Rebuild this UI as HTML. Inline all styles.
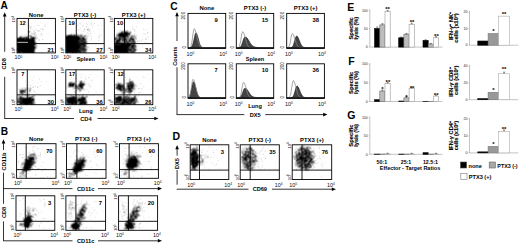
<!DOCTYPE html>
<html><head><meta charset="utf-8"><style>
html,body{margin:0;padding:0;background:#fff;width:520px;height:244px;overflow:hidden}
svg{display:block;font-family:"Liberation Sans",sans-serif}
</style></head><body>
<svg width="520" height="244" viewBox="0 0 520 244" font-family="Liberation Sans, sans-serif">
<defs><clipPath id="a00"><rect x="17.0" y="18.4" width="38.4" height="34.5"/></clipPath><clipPath id="a01"><rect x="65.8" y="18.4" width="38.400000000000006" height="34.5"/></clipPath><clipPath id="a02"><rect x="114.4" y="18.4" width="38.400000000000006" height="34.5"/></clipPath><clipPath id="a10"><rect x="17.0" y="69.8" width="38.4" height="34.900000000000006"/></clipPath><clipPath id="a11"><rect x="65.8" y="69.8" width="38.400000000000006" height="34.900000000000006"/></clipPath><clipPath id="a12"><rect x="114.4" y="69.8" width="38.400000000000006" height="34.900000000000006"/></clipPath><clipPath id="b00"><rect x="16.6" y="143.7" width="39.4" height="34.60000000000002"/></clipPath><clipPath id="b01"><rect x="66.5" y="143.7" width="39.5" height="34.60000000000002"/></clipPath><clipPath id="b02"><rect x="119.5" y="143.7" width="38.900000000000006" height="34.60000000000002"/></clipPath><clipPath id="b10"><rect x="16.0" y="195.8" width="38.8" height="34.5"/></clipPath><clipPath id="b11"><rect x="65.9" y="195.8" width="39.69999999999999" height="34.5"/></clipPath><clipPath id="b12"><rect x="118.6" y="195.8" width="39.0" height="34.5"/></clipPath><clipPath id="d0"><rect x="190.2" y="144.8" width="38.60000000000002" height="34.69999999999999"/></clipPath><clipPath id="d1"><rect x="240.2" y="144.8" width="39.10000000000002" height="34.69999999999999"/></clipPath><clipPath id="d2"><rect x="292.2" y="144.8" width="39.5" height="34.69999999999999"/></clipPath><filter id="spk" x="0" y="0" width="520" height="244" filterUnits="userSpaceOnUse" color-interpolation-filters="sRGB"><feGaussianBlur in="SourceAlpha" stdDeviation="1.0" result="b"/><feTurbulence type="fractalNoise" baseFrequency="0.85" numOctaves="2" seed="4" result="n"/><feComponentTransfer in="n" result="u"><feFuncR type="table" tableValues="0 0 0 .001 .005 .016 .044 .1 .196 .335 .5 .665 .804 .9 .956 .984 .995 .999 1 1 1"/></feComponentTransfer><feColorMatrix in="u" type="matrix" values="0 0 0 0 0  0 0 0 0 0  0 0 0 0 0  1 0 0 0 0" result="na"/><feComposite in="b" in2="na" operator="arithmetic" k1="0" k2="4" k3="-3" k4="0.1" result="c"/><feColorMatrix in="c" type="matrix" values="0 0 0 0 0  0 0 0 0 0  0 0 0 0 0  0 0 0 1 0"/><feConvolveMatrix order="3" kernelMatrix="1 2 1 2 4 2 1 2 1" divisor="16"/></filter></defs>
<rect width="520" height="244" fill="#fff"/>
<text x="0.5" y="9.3" font-size="10.2" font-weight="bold" text-anchor="start" fill="#000">A</text>
<path d="M4.7 12.2L2.9000000000000004 16.4L6.5 16.4Z" fill="#000"/>
<path d="M4.7 15L4.7 51.8" stroke="#000" stroke-width="0.8"/>
<text x="0" y="0" font-size="5.6" font-weight="bold" text-anchor="middle" fill="#000" transform="translate(6.1,63.8) rotate(-90)">CD8</text>
<path d="M4.7 76.8L4.7 118.5" stroke="#000" stroke-width="0.8"/>
<path d="M4.3 118.5L74.0 118.5" stroke="#000" stroke-width="0.8"/>
<path d="M97.5 118.5L155 118.5" stroke="#000" stroke-width="0.8"/>
<path d="M158.5 118.5L154.3 116.7L154.3 120.3Z" fill="#000"/>
<text x="85.9" y="120.5" font-size="5.7" font-weight="bold" text-anchor="middle" fill="#000">CD4</text>
<g clip-path="url(#a00)"><g filter="url(#spk)">
<rect x="16" y="37.6" width="19.2" height="16" fill="#000" fill-opacity="1.0"/>
<ellipse cx="31" cy="33" rx="5" ry="4" fill="#000" fill-opacity="0.15"/>
</g>
<rect x="17" y="41.8" width="11" height="1.3" fill="#fff" fill-opacity="0.6"/>
<path d="M33.5 26.4h.8v.8h-.8zM39.1 25.2h.8v.8h-.8zM37.1 29.9h.8v.8h-.8zM29.0 32.1h.8v.8h-.8zM28.6 30.9h.8v.8h-.8zM29.2 25.5h.8v.8h-.8zM35.2 37.2h.8v.8h-.8zM30.1 27.6h.8v.8h-.8zM38.7 39.2h.8v.8h-.8zM37.8 30.3h.8v.8h-.8zM44.6 24.7h.8v.8h-.8zM42.6 28.6h.8v.8h-.8zM30.5 25.9h.8v.8h-.8zM33.2 37.1h.8v.8h-.8zM31.1 33.3h.8v.8h-.8zM38.9 30.0h.8v.8h-.8zM37.3 25.0h.8v.8h-.8zM29.0 27.3h.8v.8h-.8zM39.6 30.8h.8v.8h-.8zM33.3 33.4h.8v.8h-.8zM35.7 28.8h.8v.8h-.8zM41.5 35.2h.8v.8h-.8zM32.1 33.2h.8v.8h-.8zM36.9 38.0h.8v.8h-.8zM40.4 28.6h.8v.8h-.8zM44.7 25.9h.8v.8h-.8zM35.1 36.1h.8v.8h-.8zM30.6 31.8h.8v.8h-.8zM28.7 34.7h.8v.8h-.8zM41.0 33.2h.8v.8h-.8zM42.9 29.0h.8v.8h-.8zM39.8 33.5h.8v.8h-.8zM37.9 31.3h.8v.8h-.8zM42.3 39.1h.8v.8h-.8zM36.1 34.6h.8v.8h-.8zM29.0 35.2h.8v.8h-.8zM39.0 39.9h.8v.8h-.8zM42.0 28.6h.8v.8h-.8zM34.6 34.7h.8v.8h-.8zM28.4 31.4h.8v.8h-.8zM30.9 25.9h.8v.8h-.8zM29.0 36.3h.8v.8h-.8zM30.2 28.0h.8v.8h-.8zM34.6 37.9h.8v.8h-.8zM29.4 31.2h.8v.8h-.8z" fill="#000" fill-opacity="0.22"/>
</g>
<rect x="17.0" y="18.4" width="38.4" height="34.5" fill="none" stroke="#000" stroke-width="0.9"/>
<path d="M28.4 18.4L28.4 52.9" stroke="#000" stroke-width="0.9"/>
<path d="M17.0 43.6L55.4 43.6" stroke="#000" stroke-width="0.9"/>
<text x="14.4" y="59.3" font-size="5.4" fill="#111">10<tspan font-size="3.2" dy="-1.8">0</tspan></text>
<text x="50.8" y="59.3" font-size="5.4" fill="#111">10<tspan font-size="3.2" dy="-1.8">4</tspan></text>
<text x="0" y="0" font-size="4.4" fill="#111" transform="translate(15.4,22.4) rotate(-90)">10<tspan font-size="3" dy="-1.5">4</tspan></text>
<text x="0" y="0" font-size="4.4" fill="#111" transform="translate(15.4,53.699999999999996) rotate(-90)">10<tspan font-size="3" dy="-1.5">0</tspan></text>
<text x="19.4" y="24.9" font-size="5.8" font-weight="bold" text-anchor="start" fill="#000">12</text>
<text x="54.0" y="52.1" font-size="5.8" font-weight="bold" text-anchor="end" fill="#000">21</text>
<text x="36.2" y="16.5" font-size="5.9" font-weight="bold" text-anchor="middle" fill="#000">None</text>
<g clip-path="url(#a01)"><g filter="url(#spk)">
<rect x="65" y="35" width="13" height="18.5" fill="#000" fill-opacity="1.0"/>
<rect x="77" y="36" width="9.5" height="17.5" fill="#000" fill-opacity="0.75"/>
<ellipse cx="88" cy="31" rx="9" ry="3" transform="rotate(-30 88 31)" fill="#000" fill-opacity="0.1"/>
</g>
<path d="M91.2 37.9h.8v.8h-.8zM97.7 37.6h.8v.8h-.8zM84.7 29.5h.8v.8h-.8zM86.6 37.9h.8v.8h-.8zM101.0 24.7h.8v.8h-.8zM82.2 26.2h.8v.8h-.8zM83.6 30.7h.8v.8h-.8zM92.1 26.7h.8v.8h-.8zM78.1 29.5h.8v.8h-.8zM86.9 32.2h.8v.8h-.8zM100.9 34.4h.8v.8h-.8zM90.4 33.1h.8v.8h-.8zM94.2 23.0h.8v.8h-.8zM99.6 36.0h.8v.8h-.8zM99.0 36.4h.8v.8h-.8zM87.4 29.2h.8v.8h-.8zM80.5 33.4h.8v.8h-.8zM79.5 23.2h.8v.8h-.8zM83.0 24.9h.8v.8h-.8zM86.2 22.9h.8v.8h-.8zM78.0 24.7h.8v.8h-.8zM80.4 28.5h.8v.8h-.8zM78.6 37.7h.8v.8h-.8zM92.7 24.7h.8v.8h-.8zM84.1 28.3h.8v.8h-.8zM86.7 24.2h.8v.8h-.8zM98.4 39.9h.8v.8h-.8zM89.2 30.7h.8v.8h-.8zM80.1 23.8h.8v.8h-.8zM86.2 26.8h.8v.8h-.8zM97.9 24.9h.8v.8h-.8zM78.6 39.1h.8v.8h-.8zM90.7 24.6h.8v.8h-.8zM91.0 22.5h.8v.8h-.8zM90.7 39.6h.8v.8h-.8zM98.7 34.5h.8v.8h-.8zM84.3 28.6h.8v.8h-.8zM82.0 35.9h.8v.8h-.8zM90.8 36.0h.8v.8h-.8zM85.9 26.0h.8v.8h-.8z" fill="#000" fill-opacity="0.22"/>
</g>
<rect x="65.8" y="18.4" width="38.400000000000006" height="34.5" fill="none" stroke="#000" stroke-width="0.9"/>
<path d="M76.3 18.4L76.3 52.9" stroke="#000" stroke-width="0.9"/>
<path d="M65.8 43.6L104.2 43.6" stroke="#000" stroke-width="0.9"/>
<text x="63.199999999999996" y="59.3" font-size="5.4" fill="#111">10<tspan font-size="3.2" dy="-1.8">0</tspan></text>
<text x="99.60000000000001" y="59.3" font-size="5.4" fill="#111">10<tspan font-size="3.2" dy="-1.8">4</tspan></text>
<text x="0" y="0" font-size="4.4" fill="#111" transform="translate(64.2,22.4) rotate(-90)">10<tspan font-size="3" dy="-1.5">4</tspan></text>
<text x="0" y="0" font-size="4.4" fill="#111" transform="translate(64.2,53.699999999999996) rotate(-90)">10<tspan font-size="3" dy="-1.5">0</tspan></text>
<text x="68.2" y="24.9" font-size="5.8" font-weight="bold" text-anchor="start" fill="#000">19</text>
<text x="102.8" y="52.1" font-size="5.8" font-weight="bold" text-anchor="end" fill="#000">27</text>
<text x="85.0" y="16.5" font-size="5.9" font-weight="bold" text-anchor="middle" fill="#000">PTX3 (-)</text>
<g clip-path="url(#a02)"><g filter="url(#spk)">
<ellipse cx="124" cy="34.5" rx="7" ry="2.8" transform="rotate(-8 124 34.5)" fill="#000" fill-opacity="1.0"/>
<rect x="114" y="38" width="22" height="15.5" fill="#000" fill-opacity="0.65"/>
<rect x="113.5" y="44" width="15" height="9.5" fill="#000" fill-opacity="0.95"/>
<ellipse cx="132" cy="37" rx="3" ry="2" fill="#000" fill-opacity="0.4"/>
</g>
<path d="M144.6 41.8h.8v.8h-.8zM145.3 38.9h.8v.8h-.8zM144.7 37.8h.8v.8h-.8zM134.1 34.3h.8v.8h-.8zM136.4 26.5h.8v.8h-.8zM130.5 30.5h.8v.8h-.8zM134.7 37.1h.8v.8h-.8zM147.2 33.2h.8v.8h-.8zM146.9 41.8h.8v.8h-.8zM147.2 31.8h.8v.8h-.8zM134.0 29.6h.8v.8h-.8zM133.5 29.3h.8v.8h-.8zM141.2 40.4h.8v.8h-.8zM145.1 33.7h.8v.8h-.8zM141.8 38.8h.8v.8h-.8zM131.5 36.6h.8v.8h-.8zM146.4 38.5h.8v.8h-.8zM143.5 33.6h.8v.8h-.8zM133.2 38.6h.8v.8h-.8zM136.0 38.8h.8v.8h-.8zM147.5 32.3h.8v.8h-.8zM137.2 41.1h.8v.8h-.8zM143.0 28.7h.8v.8h-.8zM132.3 28.4h.8v.8h-.8zM146.3 38.9h.8v.8h-.8zM132.6 39.2h.8v.8h-.8zM147.6 36.5h.8v.8h-.8zM136.3 34.8h.8v.8h-.8zM132.4 26.2h.8v.8h-.8zM147.5 36.4h.8v.8h-.8zM139.5 40.9h.8v.8h-.8zM137.8 39.9h.8v.8h-.8zM144.9 29.4h.8v.8h-.8zM134.5 30.7h.8v.8h-.8zM134.3 35.4h.8v.8h-.8z" fill="#000" fill-opacity="0.22"/>
</g>
<rect x="114.4" y="18.4" width="38.400000000000006" height="34.5" fill="none" stroke="#000" stroke-width="0.9"/>
<path d="M124.5 18.4L124.5 52.9" stroke="#000" stroke-width="0.9"/>
<path d="M114.4 43.6L152.8 43.6" stroke="#000" stroke-width="0.9"/>
<text x="111.80000000000001" y="59.3" font-size="5.4" fill="#111">10<tspan font-size="3.2" dy="-1.8">0</tspan></text>
<text x="148.20000000000002" y="59.3" font-size="5.4" fill="#111">10<tspan font-size="3.2" dy="-1.8">4</tspan></text>
<text x="0" y="0" font-size="4.4" fill="#111" transform="translate(112.80000000000001,22.4) rotate(-90)">10<tspan font-size="3" dy="-1.5">4</tspan></text>
<text x="0" y="0" font-size="4.4" fill="#111" transform="translate(112.80000000000001,53.699999999999996) rotate(-90)">10<tspan font-size="3" dy="-1.5">0</tspan></text>
<text x="116.80000000000001" y="24.9" font-size="5.8" font-weight="bold" text-anchor="start" fill="#000">10</text>
<text x="151.4" y="52.1" font-size="5.8" font-weight="bold" text-anchor="end" fill="#000">34</text>
<text x="133.60000000000002" y="16.5" font-size="5.9" font-weight="bold" text-anchor="middle" fill="#000">PTX3 (+)</text>
<g clip-path="url(#a10)"><g filter="url(#spk)">
<ellipse cx="22.5" cy="91.5" rx="2.8" ry="2.0" fill="#000" fill-opacity="0.95"/>
<rect x="16.5" y="96.6" width="18" height="9" fill="#000" fill-opacity="0.6"/>
<rect x="21" y="97.5" width="12" height="8" fill="#000" fill-opacity="0.9"/>
<ellipse cx="28" cy="91" rx="5" ry="4" fill="#000" fill-opacity="0.2"/>
</g>
<path d="M28.7 84.4h.8v.8h-.8zM26.4 94.2h.8v.8h-.8zM30.4 85.2h.8v.8h-.8zM34.5 94.1h.8v.8h-.8zM31.6 94.4h.8v.8h-.8zM33.0 86.6h.8v.8h-.8zM33.4 76.4h.8v.8h-.8zM31.9 79.7h.8v.8h-.8zM24.1 92.0h.8v.8h-.8zM27.1 85.5h.8v.8h-.8zM37.1 87.1h.8v.8h-.8zM29.9 86.4h.8v.8h-.8zM34.0 91.7h.8v.8h-.8zM25.9 87.2h.8v.8h-.8zM28.5 81.5h.8v.8h-.8zM37.9 86.2h.8v.8h-.8zM34.1 91.2h.8v.8h-.8zM40.4 84.9h.8v.8h-.8zM35.0 86.1h.8v.8h-.8zM33.2 89.9h.8v.8h-.8zM32.1 86.7h.8v.8h-.8zM32.6 94.8h.8v.8h-.8zM36.6 93.5h.8v.8h-.8zM41.0 81.2h.8v.8h-.8zM34.1 94.9h.8v.8h-.8zM39.1 78.7h.8v.8h-.8zM26.2 84.8h.8v.8h-.8zM25.3 80.8h.8v.8h-.8zM25.3 89.4h.8v.8h-.8zM38.1 93.9h.8v.8h-.8z" fill="#000" fill-opacity="0.22"/>
</g>
<rect x="17.0" y="69.8" width="38.4" height="34.900000000000006" fill="none" stroke="#000" stroke-width="0.9"/>
<path d="M27.3 69.8L27.3 104.7" stroke="#000" stroke-width="0.9"/>
<path d="M17.0 94.8L55.4 94.8" stroke="#000" stroke-width="0.9"/>
<text x="14.4" y="111.10000000000001" font-size="5.4" fill="#111">10<tspan font-size="3.2" dy="-1.8">0</tspan></text>
<text x="50.8" y="111.10000000000001" font-size="5.4" fill="#111">10<tspan font-size="3.2" dy="-1.8">4</tspan></text>
<text x="0" y="0" font-size="4.4" fill="#111" transform="translate(15.4,73.8) rotate(-90)">10<tspan font-size="3" dy="-1.5">4</tspan></text>
<text x="0" y="0" font-size="4.4" fill="#111" transform="translate(15.4,105.5) rotate(-90)">10<tspan font-size="3" dy="-1.5">0</tspan></text>
<text x="21.2" y="76.3" font-size="5.8" font-weight="bold" text-anchor="start" fill="#000">7</text>
<text x="54.0" y="103.9" font-size="5.8" font-weight="bold" text-anchor="end" fill="#000">30</text>
<g clip-path="url(#a11)"><g filter="url(#spk)">
<ellipse cx="71.5" cy="85" rx="4" ry="2.0" transform="rotate(-10 71.5 85)" fill="#000" fill-opacity="1.0"/>
<ellipse cx="81.5" cy="85.5" rx="2.8" ry="3.8" transform="rotate(15 81.5 85.5)" fill="#000" fill-opacity="0.9"/>
<rect x="65.5" y="96.5" width="10.5" height="9" fill="#000" fill-opacity="0.85"/>
<rect x="79" y="96.5" width="7.5" height="9" fill="#000" fill-opacity="0.9"/>
<rect x="75" y="97" width="4" height="8" fill="#000" fill-opacity="0.45"/>
<ellipse cx="78" cy="89" rx="5" ry="4" fill="#000" fill-opacity="0.3"/>
</g>
<path d="M77.4 89.8h.8v.8h-.8zM88.5 77.1h.8v.8h-.8zM93.4 95.3h.8v.8h-.8zM78.8 95.0h.8v.8h-.8zM82.8 84.7h.8v.8h-.8zM95.8 92.3h.8v.8h-.8zM77.6 83.5h.8v.8h-.8zM85.3 81.5h.8v.8h-.8zM78.3 81.0h.8v.8h-.8zM89.9 74.4h.8v.8h-.8zM86.2 83.7h.8v.8h-.8zM74.4 81.3h.8v.8h-.8zM87.7 85.3h.8v.8h-.8zM75.4 95.7h.8v.8h-.8zM91.3 95.4h.8v.8h-.8zM76.3 79.8h.8v.8h-.8zM74.9 91.1h.8v.8h-.8zM79.9 76.9h.8v.8h-.8zM83.3 94.1h.8v.8h-.8zM92.0 79.7h.8v.8h-.8zM77.3 94.2h.8v.8h-.8zM86.6 89.4h.8v.8h-.8zM76.0 75.3h.8v.8h-.8zM89.1 83.4h.8v.8h-.8zM75.6 94.6h.8v.8h-.8zM88.0 91.6h.8v.8h-.8zM75.8 92.8h.8v.8h-.8zM75.5 93.0h.8v.8h-.8zM84.0 81.5h.8v.8h-.8zM86.2 94.4h.8v.8h-.8zM79.9 76.8h.8v.8h-.8zM85.6 79.2h.8v.8h-.8zM76.4 77.6h.8v.8h-.8zM75.1 78.4h.8v.8h-.8zM80.9 80.7h.8v.8h-.8zM90.7 80.4h.8v.8h-.8zM85.0 77.9h.8v.8h-.8zM81.6 74.4h.8v.8h-.8zM79.5 74.3h.8v.8h-.8zM90.1 86.1h.8v.8h-.8z" fill="#000" fill-opacity="0.22"/>
</g>
<rect x="65.8" y="69.8" width="38.400000000000006" height="34.900000000000006" fill="none" stroke="#000" stroke-width="0.9"/>
<path d="M76.0 69.8L76.0 104.7" stroke="#000" stroke-width="0.9"/>
<path d="M65.8 94.8L104.2 94.8" stroke="#000" stroke-width="0.9"/>
<text x="63.199999999999996" y="111.10000000000001" font-size="5.4" fill="#111">10<tspan font-size="3.2" dy="-1.8">0</tspan></text>
<text x="99.60000000000001" y="111.10000000000001" font-size="5.4" fill="#111">10<tspan font-size="3.2" dy="-1.8">4</tspan></text>
<text x="0" y="0" font-size="4.4" fill="#111" transform="translate(64.2,73.8) rotate(-90)">10<tspan font-size="3" dy="-1.5">4</tspan></text>
<text x="0" y="0" font-size="4.4" fill="#111" transform="translate(64.2,105.5) rotate(-90)">10<tspan font-size="3" dy="-1.5">0</tspan></text>
<text x="68.8" y="76.3" font-size="5.8" font-weight="bold" text-anchor="start" fill="#000">17</text>
<text x="102.8" y="103.9" font-size="5.8" font-weight="bold" text-anchor="end" fill="#000">36</text>
<g clip-path="url(#a12)"><g filter="url(#spk)">
<ellipse cx="120" cy="87" rx="4.5" ry="3.5" fill="#000" fill-opacity="0.85"/>
<ellipse cx="130.5" cy="86.5" rx="3.8" ry="5.5" transform="rotate(10 130.5 86.5)" fill="#000" fill-opacity="0.8"/>
<rect x="114" y="96.5" width="23" height="9" fill="#000" fill-opacity="0.75"/>
<ellipse cx="126" cy="91" rx="7" ry="3.5" fill="#000" fill-opacity="0.35"/>
</g>
<path d="M127.8 84.4h.8v.8h-.8zM142.7 76.3h.8v.8h-.8zM140.4 83.5h.8v.8h-.8zM133.9 92.4h.8v.8h-.8zM131.9 85.1h.8v.8h-.8zM137.8 95.6h.8v.8h-.8zM130.9 92.3h.8v.8h-.8zM138.1 88.0h.8v.8h-.8zM132.1 81.6h.8v.8h-.8zM125.1 76.9h.8v.8h-.8zM125.4 90.3h.8v.8h-.8zM129.1 77.6h.8v.8h-.8zM125.7 92.5h.8v.8h-.8zM141.4 88.8h.8v.8h-.8zM129.6 79.3h.8v.8h-.8zM129.9 84.1h.8v.8h-.8zM127.2 83.8h.8v.8h-.8zM129.3 95.2h.8v.8h-.8zM143.5 86.0h.8v.8h-.8zM128.9 95.2h.8v.8h-.8zM130.2 81.8h.8v.8h-.8zM124.0 82.4h.8v.8h-.8zM133.5 85.1h.8v.8h-.8zM128.0 85.1h.8v.8h-.8zM124.1 79.8h.8v.8h-.8zM125.8 82.8h.8v.8h-.8zM124.8 74.5h.8v.8h-.8zM130.1 79.1h.8v.8h-.8zM135.7 85.6h.8v.8h-.8zM139.0 88.5h.8v.8h-.8zM138.3 93.3h.8v.8h-.8zM131.8 81.2h.8v.8h-.8zM143.7 77.3h.8v.8h-.8zM138.5 88.2h.8v.8h-.8zM124.9 92.4h.8v.8h-.8zM141.8 87.8h.8v.8h-.8zM138.7 91.9h.8v.8h-.8zM126.8 85.5h.8v.8h-.8zM134.1 92.4h.8v.8h-.8zM140.1 92.2h.8v.8h-.8z" fill="#000" fill-opacity="0.22"/>
</g>
<rect x="114.4" y="69.8" width="38.400000000000006" height="34.900000000000006" fill="none" stroke="#000" stroke-width="0.9"/>
<path d="M124.0 69.8L124.0 104.7" stroke="#000" stroke-width="0.9"/>
<path d="M114.4 94.8L152.8 94.8" stroke="#000" stroke-width="0.9"/>
<text x="111.80000000000001" y="111.10000000000001" font-size="5.4" fill="#111">10<tspan font-size="3.2" dy="-1.8">0</tspan></text>
<text x="148.20000000000002" y="111.10000000000001" font-size="5.4" fill="#111">10<tspan font-size="3.2" dy="-1.8">4</tspan></text>
<text x="0" y="0" font-size="4.4" fill="#111" transform="translate(112.80000000000001,73.8) rotate(-90)">10<tspan font-size="3" dy="-1.5">4</tspan></text>
<text x="0" y="0" font-size="4.4" fill="#111" transform="translate(112.80000000000001,105.5) rotate(-90)">10<tspan font-size="3" dy="-1.5">0</tspan></text>
<text x="117.4" y="76.3" font-size="5.8" font-weight="bold" text-anchor="start" fill="#000">12</text>
<text x="151.4" y="103.9" font-size="5.8" font-weight="bold" text-anchor="end" fill="#000">26</text>
<text x="85.8" y="61.3" font-size="5.6" font-weight="bold" text-anchor="middle" fill="#000">Spleen</text>
<text x="85.8" y="112.8" font-size="5.6" font-weight="bold" text-anchor="middle" fill="#000">Lung</text>
<text x="0.7" y="134.8" font-size="10.2" font-weight="bold" text-anchor="start" fill="#000">B</text>
<path d="M3.5 139.2L1.7 143.39999999999998L5.3 143.39999999999998Z" fill="#000"/>
<path d="M3.5 142L3.5 150.0" stroke="#000" stroke-width="0.8"/>
<text x="0" y="0" font-size="5.8" font-weight="bold" text-anchor="middle" fill="#000" transform="translate(5.6,161.5) rotate(-90)">CD11b</text>
<path d="M3.5 172.7L3.5 203.8" stroke="#000" stroke-width="0.8"/>
<path d="M3.5 221.4L3.5 240.8" stroke="#000" stroke-width="0.8"/>
<path d="M3.1 188.6L72.5 188.6" stroke="#000" stroke-width="0.8"/>
<path d="M98.0 188.6L158.5 188.6" stroke="#000" stroke-width="0.8"/>
<path d="M162.0 188.6L157.8 186.79999999999998L157.8 190.4Z" fill="#000"/>
<text x="85.7" y="190.6" font-size="5.7" font-weight="bold" text-anchor="middle" fill="#000">CD11c</text>
<text x="0" y="0" font-size="5.6" font-weight="bold" text-anchor="middle" fill="#000" transform="translate(5.5,212.5) rotate(-90)">CD8</text>
<path d="M3.1 240.8L72.5 240.8" stroke="#000" stroke-width="0.8"/>
<path d="M98.0 240.8L158.5 240.8" stroke="#000" stroke-width="0.8"/>
<path d="M162.0 240.8L157.8 239.0L157.8 242.60000000000002Z" fill="#000"/>
<text x="85.7" y="242.8" font-size="5.7" font-weight="bold" text-anchor="middle" fill="#000">CD11c</text>
<g clip-path="url(#b00)"><g filter="url(#spk)">
<ellipse cx="28.3" cy="164" rx="3.9" ry="8.5" transform="rotate(28 28.3 164)" fill="#000" fill-opacity="0.95"/>
<ellipse cx="29.5" cy="162" rx="6" ry="10.5" transform="rotate(30 29.5 162)" fill="#000" fill-opacity="0.32"/>
<ellipse cx="22" cy="174" rx="3" ry="3" fill="#000" fill-opacity="0.35"/>
</g>
<path d="M35.5 174.6h.8v.8h-.8zM38.5 168.2h.8v.8h-.8zM24.9 147.0h.8v.8h-.8zM22.0 157.5h.8v.8h-.8zM21.1 172.7h.8v.8h-.8zM34.8 166.1h.8v.8h-.8zM36.8 167.8h.8v.8h-.8zM32.7 146.1h.8v.8h-.8zM41.9 169.9h.8v.8h-.8zM33.1 163.1h.8v.8h-.8zM37.8 148.1h.8v.8h-.8zM40.1 154.1h.8v.8h-.8zM20.2 154.5h.8v.8h-.8zM39.9 152.6h.8v.8h-.8zM40.2 177.2h.8v.8h-.8zM32.8 158.2h.8v.8h-.8zM32.4 167.9h.8v.8h-.8zM41.0 165.7h.8v.8h-.8zM37.3 148.5h.8v.8h-.8zM22.4 154.1h.8v.8h-.8zM40.3 155.7h.8v.8h-.8zM35.0 146.4h.8v.8h-.8zM19.8 154.6h.8v.8h-.8zM38.2 168.1h.8v.8h-.8zM38.3 155.3h.8v.8h-.8zM33.5 160.9h.8v.8h-.8zM32.0 149.8h.8v.8h-.8zM44.8 152.4h.8v.8h-.8zM47.3 176.0h.8v.8h-.8zM18.5 160.7h.8v.8h-.8zM42.6 177.0h.8v.8h-.8zM31.5 154.6h.8v.8h-.8zM24.3 176.3h.8v.8h-.8zM24.3 164.6h.8v.8h-.8zM22.3 162.8h.8v.8h-.8zM46.6 150.2h.8v.8h-.8zM42.6 162.3h.8v.8h-.8zM44.6 168.5h.8v.8h-.8zM24.9 174.7h.8v.8h-.8zM32.6 146.8h.8v.8h-.8zM18.1 161.7h.8v.8h-.8zM31.5 155.7h.8v.8h-.8zM22.2 157.0h.8v.8h-.8zM27.5 172.9h.8v.8h-.8zM18.1 170.0h.8v.8h-.8z" fill="#000" fill-opacity="0.22"/>
</g>
<rect x="16.6" y="143.7" width="39.4" height="34.60000000000002" fill="none" stroke="#000" stroke-width="0.9"/>
<path d="M26.2 143.7L26.2 178.3" stroke="#000" stroke-width="0.9"/>
<path d="M16.6 169.6L56.0 169.6" stroke="#000" stroke-width="0.9"/>
<text x="14.000000000000002" y="184.9" font-size="5.4" fill="#111">10<tspan font-size="3.2" dy="-1.8">0</tspan></text>
<text x="51.4" y="184.9" font-size="5.4" fill="#111">10<tspan font-size="3.2" dy="-1.8">4</tspan></text>
<text x="0" y="0" font-size="4.4" fill="#111" transform="translate(15.000000000000002,147.7) rotate(-90)">10<tspan font-size="3" dy="-1.5">4</tspan></text>
<text x="0" y="0" font-size="4.4" fill="#111" transform="translate(15.000000000000002,179.10000000000002) rotate(-90)">10<tspan font-size="3" dy="-1.5">0</tspan></text>
<text x="52.6" y="152.89999999999998" font-size="5.8" font-weight="bold" text-anchor="end" fill="#000">70</text>
<text x="36.3" y="141.4" font-size="5.9" font-weight="bold" text-anchor="middle" fill="#000">None</text>
<g clip-path="url(#b01)"><g filter="url(#spk)">
<ellipse cx="78.8" cy="166.5" rx="3.9" ry="8.5" transform="rotate(35 78.8 166.5)" fill="#000" fill-opacity="0.95"/>
<ellipse cx="79.5" cy="165" rx="6" ry="10.5" transform="rotate(35 79.5 165)" fill="#000" fill-opacity="0.32"/>
<ellipse cx="71" cy="175" rx="3" ry="3" fill="#000" fill-opacity="0.35"/>
</g>
<path d="M93.2 151.6h.8v.8h-.8zM95.8 169.4h.8v.8h-.8zM95.0 156.7h.8v.8h-.8zM79.2 159.8h.8v.8h-.8zM98.0 165.7h.8v.8h-.8zM78.8 160.8h.8v.8h-.8zM76.3 149.4h.8v.8h-.8zM71.1 173.0h.8v.8h-.8zM76.6 176.1h.8v.8h-.8zM75.5 156.0h.8v.8h-.8zM83.3 153.7h.8v.8h-.8zM79.2 176.7h.8v.8h-.8zM94.5 172.4h.8v.8h-.8zM86.9 175.4h.8v.8h-.8zM96.2 164.5h.8v.8h-.8zM89.6 149.5h.8v.8h-.8zM90.0 161.5h.8v.8h-.8zM90.6 167.3h.8v.8h-.8zM76.6 149.5h.8v.8h-.8zM95.8 151.8h.8v.8h-.8zM82.2 158.3h.8v.8h-.8zM76.9 170.2h.8v.8h-.8zM97.3 155.8h.8v.8h-.8zM87.7 157.0h.8v.8h-.8zM84.7 159.8h.8v.8h-.8zM73.0 152.8h.8v.8h-.8zM74.2 175.2h.8v.8h-.8zM82.9 154.6h.8v.8h-.8zM95.2 177.9h.8v.8h-.8zM81.5 152.2h.8v.8h-.8zM73.8 150.7h.8v.8h-.8zM78.3 150.7h.8v.8h-.8zM75.2 155.8h.8v.8h-.8zM85.1 174.6h.8v.8h-.8zM90.5 160.4h.8v.8h-.8zM80.4 163.7h.8v.8h-.8zM79.3 158.1h.8v.8h-.8zM69.9 156.3h.8v.8h-.8zM97.0 151.8h.8v.8h-.8zM83.1 166.9h.8v.8h-.8zM93.9 154.5h.8v.8h-.8zM76.1 155.5h.8v.8h-.8zM80.0 161.4h.8v.8h-.8zM96.6 173.5h.8v.8h-.8zM94.2 148.7h.8v.8h-.8z" fill="#000" fill-opacity="0.22"/>
</g>
<rect x="66.5" y="143.7" width="39.5" height="34.60000000000002" fill="none" stroke="#000" stroke-width="0.9"/>
<path d="M76.9 143.7L76.9 178.3" stroke="#000" stroke-width="0.9"/>
<path d="M66.5 169.6L106.0 169.6" stroke="#000" stroke-width="0.9"/>
<text x="63.9" y="184.9" font-size="5.4" fill="#111">10<tspan font-size="3.2" dy="-1.8">0</tspan></text>
<text x="101.4" y="184.9" font-size="5.4" fill="#111">10<tspan font-size="3.2" dy="-1.8">4</tspan></text>
<text x="0" y="0" font-size="4.4" fill="#111" transform="translate(64.9,147.7) rotate(-90)">10<tspan font-size="3" dy="-1.5">4</tspan></text>
<text x="0" y="0" font-size="4.4" fill="#111" transform="translate(64.9,179.10000000000002) rotate(-90)">10<tspan font-size="3" dy="-1.5">0</tspan></text>
<text x="102.6" y="152.89999999999998" font-size="5.8" font-weight="bold" text-anchor="end" fill="#000">60</text>
<text x="86.25" y="141.4" font-size="5.9" font-weight="bold" text-anchor="middle" fill="#000">PTX3 (-)</text>
<g clip-path="url(#b02)"><g filter="url(#spk)">
<ellipse cx="132.3" cy="163" rx="5.2" ry="6.8" transform="rotate(25 132.3 163)" fill="#000" fill-opacity="0.95"/>
<ellipse cx="133" cy="162" rx="8" ry="10" transform="rotate(25 133 162)" fill="#000" fill-opacity="0.32"/>
<ellipse cx="125" cy="173" rx="3" ry="3" fill="#000" fill-opacity="0.35"/>
</g>
<path d="M122.0 168.7h.8v.8h-.8zM148.8 161.1h.8v.8h-.8zM139.2 146.0h.8v.8h-.8zM133.1 175.7h.8v.8h-.8zM146.6 173.4h.8v.8h-.8zM151.1 154.0h.8v.8h-.8zM124.4 150.9h.8v.8h-.8zM137.2 167.8h.8v.8h-.8zM150.2 169.1h.8v.8h-.8zM141.1 170.5h.8v.8h-.8zM135.2 163.6h.8v.8h-.8zM122.2 171.0h.8v.8h-.8zM128.2 175.4h.8v.8h-.8zM141.0 155.7h.8v.8h-.8zM125.0 154.1h.8v.8h-.8zM140.7 168.4h.8v.8h-.8zM124.5 148.3h.8v.8h-.8zM137.3 164.7h.8v.8h-.8zM133.0 153.2h.8v.8h-.8zM139.6 146.3h.8v.8h-.8zM130.3 160.7h.8v.8h-.8zM150.7 166.6h.8v.8h-.8zM148.4 161.2h.8v.8h-.8zM128.3 153.9h.8v.8h-.8zM150.8 168.5h.8v.8h-.8zM130.5 146.7h.8v.8h-.8zM136.4 167.6h.8v.8h-.8zM134.0 154.2h.8v.8h-.8zM141.7 175.6h.8v.8h-.8zM128.0 147.1h.8v.8h-.8zM131.5 159.5h.8v.8h-.8zM142.2 152.3h.8v.8h-.8zM145.7 169.7h.8v.8h-.8zM136.7 152.6h.8v.8h-.8zM151.1 156.0h.8v.8h-.8zM146.4 153.4h.8v.8h-.8zM127.9 170.3h.8v.8h-.8zM130.1 176.5h.8v.8h-.8zM136.4 152.0h.8v.8h-.8zM127.9 159.3h.8v.8h-.8zM141.6 176.4h.8v.8h-.8zM125.5 158.6h.8v.8h-.8zM127.6 177.2h.8v.8h-.8zM125.4 147.7h.8v.8h-.8zM122.9 158.6h.8v.8h-.8zM148.8 174.3h.8v.8h-.8zM143.7 177.9h.8v.8h-.8zM149.9 156.5h.8v.8h-.8zM126.8 175.9h.8v.8h-.8zM144.1 147.0h.8v.8h-.8z" fill="#000" fill-opacity="0.22"/>
</g>
<rect x="119.5" y="143.7" width="38.900000000000006" height="34.60000000000002" fill="none" stroke="#000" stroke-width="0.9"/>
<path d="M129.1 143.7L129.1 178.3" stroke="#000" stroke-width="0.9"/>
<path d="M119.5 169.6L158.4 169.6" stroke="#000" stroke-width="0.9"/>
<text x="116.9" y="184.9" font-size="5.4" fill="#111">10<tspan font-size="3.2" dy="-1.8">0</tspan></text>
<text x="153.8" y="184.9" font-size="5.4" fill="#111">10<tspan font-size="3.2" dy="-1.8">4</tspan></text>
<text x="0" y="0" font-size="4.4" fill="#111" transform="translate(117.9,147.7) rotate(-90)">10<tspan font-size="3" dy="-1.5">4</tspan></text>
<text x="0" y="0" font-size="4.4" fill="#111" transform="translate(117.9,179.10000000000002) rotate(-90)">10<tspan font-size="3" dy="-1.5">0</tspan></text>
<text x="155.0" y="152.89999999999998" font-size="5.8" font-weight="bold" text-anchor="end" fill="#000">90</text>
<text x="138.95" y="141.4" font-size="5.9" font-weight="bold" text-anchor="middle" fill="#000">PTX3 (+)</text>
<g clip-path="url(#b10)"><g filter="url(#spk)">
<ellipse cx="27.8" cy="221.5" rx="4.0" ry="6.8" transform="rotate(10 27.8 221.5)" fill="#000" fill-opacity="0.95"/>
<ellipse cx="31" cy="213" rx="6" ry="6" fill="#000" fill-opacity="0.22"/>
<ellipse cx="21" cy="225" rx="3" ry="3" fill="#000" fill-opacity="0.35"/>
</g>
<path d="M36.6 210.1h.8v.8h-.8zM28.5 208.6h.8v.8h-.8zM22.7 198.1h.8v.8h-.8zM25.8 209.2h.8v.8h-.8zM44.8 202.0h.8v.8h-.8zM45.0 204.6h.8v.8h-.8zM28.0 224.3h.8v.8h-.8zM41.0 211.8h.8v.8h-.8zM19.4 213.2h.8v.8h-.8zM28.4 227.4h.8v.8h-.8zM23.4 209.7h.8v.8h-.8zM43.1 199.0h.8v.8h-.8zM29.5 224.0h.8v.8h-.8zM39.5 199.3h.8v.8h-.8zM19.0 200.0h.8v.8h-.8zM43.8 206.2h.8v.8h-.8zM38.9 226.8h.8v.8h-.8zM27.5 206.7h.8v.8h-.8zM44.8 217.7h.8v.8h-.8zM25.3 220.9h.8v.8h-.8zM26.9 206.8h.8v.8h-.8zM18.1 222.2h.8v.8h-.8zM43.7 218.3h.8v.8h-.8zM44.4 198.8h.8v.8h-.8zM24.5 213.2h.8v.8h-.8zM44.8 228.5h.8v.8h-.8zM28.8 206.0h.8v.8h-.8zM30.0 213.8h.8v.8h-.8zM44.0 203.9h.8v.8h-.8zM40.5 221.6h.8v.8h-.8zM41.0 222.7h.8v.8h-.8zM35.0 208.5h.8v.8h-.8zM26.9 209.6h.8v.8h-.8zM39.9 200.5h.8v.8h-.8zM23.5 222.1h.8v.8h-.8zM24.9 200.1h.8v.8h-.8zM18.9 215.7h.8v.8h-.8zM27.1 229.4h.8v.8h-.8zM42.7 229.6h.8v.8h-.8zM25.4 200.7h.8v.8h-.8zM20.7 214.0h.8v.8h-.8zM37.9 212.3h.8v.8h-.8zM24.6 211.3h.8v.8h-.8zM35.4 219.6h.8v.8h-.8zM38.9 225.1h.8v.8h-.8z" fill="#000" fill-opacity="0.22"/>
</g>
<rect x="16.0" y="195.8" width="38.8" height="34.5" fill="none" stroke="#000" stroke-width="0.9"/>
<path d="M25.3 195.8L25.3 230.3" stroke="#000" stroke-width="0.9"/>
<path d="M16.0 221.3L54.8 221.3" stroke="#000" stroke-width="0.9"/>
<text x="13.4" y="236.9" font-size="5.4" fill="#111">10<tspan font-size="3.2" dy="-1.8">0</tspan></text>
<text x="50.199999999999996" y="236.9" font-size="5.4" fill="#111">10<tspan font-size="3.2" dy="-1.8">4</tspan></text>
<text x="0" y="0" font-size="4.4" fill="#111" transform="translate(14.4,199.8) rotate(-90)">10<tspan font-size="3" dy="-1.5">4</tspan></text>
<text x="0" y="0" font-size="4.4" fill="#111" transform="translate(14.4,231.10000000000002) rotate(-90)">10<tspan font-size="3" dy="-1.5">0</tspan></text>
<text x="48.0" y="205.0" font-size="5.8" font-weight="bold" text-anchor="start" fill="#000">3</text>
<g clip-path="url(#b11)"><g filter="url(#spk)">
<ellipse cx="75.5" cy="226.5" rx="4.5" ry="3.5" fill="#000" fill-opacity="0.95"/>
<ellipse cx="79.5" cy="217" rx="3.3" ry="11" transform="rotate(25 79.5 217)" fill="#000" fill-opacity="0.6"/>
<ellipse cx="84" cy="207" rx="2.5" ry="5" transform="rotate(25 84 207)" fill="#000" fill-opacity="0.3"/>
<ellipse cx="71" cy="208" rx="3.5" ry="9" fill="#000" fill-opacity="0.15"/>
<ellipse cx="81" cy="216" rx="6" ry="12" transform="rotate(25 81 216)" fill="#000" fill-opacity="0.15"/>
</g>
<path d="M86.6 201.9h.8v.8h-.8zM91.5 207.4h.8v.8h-.8zM83.9 209.9h.8v.8h-.8zM88.7 204.4h.8v.8h-.8zM74.9 205.9h.8v.8h-.8zM72.3 226.3h.8v.8h-.8zM84.2 208.4h.8v.8h-.8zM79.1 229.8h.8v.8h-.8zM82.2 205.4h.8v.8h-.8zM90.6 218.9h.8v.8h-.8zM95.7 201.3h.8v.8h-.8zM81.3 224.2h.8v.8h-.8zM91.5 227.3h.8v.8h-.8zM69.1 207.4h.8v.8h-.8zM71.3 204.1h.8v.8h-.8zM95.2 216.7h.8v.8h-.8zM94.0 209.9h.8v.8h-.8zM92.3 212.4h.8v.8h-.8zM75.3 222.9h.8v.8h-.8zM94.5 201.4h.8v.8h-.8zM84.7 217.8h.8v.8h-.8zM74.1 209.8h.8v.8h-.8zM72.0 204.5h.8v.8h-.8zM75.1 217.2h.8v.8h-.8zM86.2 204.5h.8v.8h-.8zM68.3 208.5h.8v.8h-.8zM87.0 203.9h.8v.8h-.8zM76.7 204.5h.8v.8h-.8zM90.3 215.5h.8v.8h-.8zM69.8 201.2h.8v.8h-.8zM79.1 215.6h.8v.8h-.8zM85.9 200.9h.8v.8h-.8zM72.6 220.3h.8v.8h-.8zM79.5 207.1h.8v.8h-.8zM76.6 228.5h.8v.8h-.8zM76.7 216.1h.8v.8h-.8zM78.0 211.3h.8v.8h-.8zM92.2 229.9h.8v.8h-.8zM78.2 204.3h.8v.8h-.8zM88.4 204.5h.8v.8h-.8zM68.2 226.9h.8v.8h-.8zM79.9 224.3h.8v.8h-.8zM79.4 226.3h.8v.8h-.8zM80.9 203.2h.8v.8h-.8zM68.4 215.6h.8v.8h-.8zM85.9 227.1h.8v.8h-.8zM70.5 217.9h.8v.8h-.8zM78.4 214.1h.8v.8h-.8zM72.1 207.1h.8v.8h-.8zM82.6 227.6h.8v.8h-.8zM71.0 213.7h.8v.8h-.8zM90.5 228.9h.8v.8h-.8zM73.5 202.1h.8v.8h-.8zM94.4 229.2h.8v.8h-.8zM81.5 199.7h.8v.8h-.8z" fill="#000" fill-opacity="0.22"/>
</g>
<rect x="65.9" y="195.8" width="39.69999999999999" height="34.5" fill="none" stroke="#000" stroke-width="0.9"/>
<path d="M75.9 195.8L75.9 230.3" stroke="#000" stroke-width="0.9"/>
<path d="M65.9 221.3L105.6 221.3" stroke="#000" stroke-width="0.9"/>
<text x="63.300000000000004" y="236.9" font-size="5.4" fill="#111">10<tspan font-size="3.2" dy="-1.8">0</tspan></text>
<text x="101.0" y="236.9" font-size="5.4" fill="#111">10<tspan font-size="3.2" dy="-1.8">4</tspan></text>
<text x="0" y="0" font-size="4.4" fill="#111" transform="translate(64.30000000000001,199.8) rotate(-90)">10<tspan font-size="3" dy="-1.5">4</tspan></text>
<text x="0" y="0" font-size="4.4" fill="#111" transform="translate(64.30000000000001,231.10000000000002) rotate(-90)">10<tspan font-size="3" dy="-1.5">0</tspan></text>
<text x="98.8" y="205.0" font-size="5.8" font-weight="bold" text-anchor="start" fill="#000">7</text>
<g clip-path="url(#b12)"><g filter="url(#spk)">
<ellipse cx="129.5" cy="226" rx="4.8" ry="4" fill="#000" fill-opacity="0.95"/>
<ellipse cx="133" cy="217" rx="3.5" ry="10" transform="rotate(30 133 217)" fill="#000" fill-opacity="0.65"/>
<ellipse cx="137.5" cy="207" rx="2.5" ry="4" transform="rotate(30 137.5 207)" fill="#000" fill-opacity="0.3"/>
<ellipse cx="123.5" cy="210" rx="3" ry="8" fill="#000" fill-opacity="0.15"/>
<ellipse cx="134" cy="215" rx="6" ry="12" transform="rotate(30 134 215)" fill="#000" fill-opacity="0.15"/>
</g>
<path d="M144.2 210.4h.8v.8h-.8zM143.6 217.9h.8v.8h-.8zM141.6 203.1h.8v.8h-.8zM140.6 205.1h.8v.8h-.8zM131.1 225.1h.8v.8h-.8zM141.7 203.9h.8v.8h-.8zM126.5 210.8h.8v.8h-.8zM133.9 210.3h.8v.8h-.8zM124.1 205.9h.8v.8h-.8zM139.1 226.7h.8v.8h-.8zM122.0 216.0h.8v.8h-.8zM139.9 199.2h.8v.8h-.8zM142.0 201.8h.8v.8h-.8zM136.0 215.6h.8v.8h-.8zM136.7 207.8h.8v.8h-.8zM131.5 216.6h.8v.8h-.8zM131.6 219.1h.8v.8h-.8zM132.2 212.0h.8v.8h-.8zM121.6 217.8h.8v.8h-.8zM133.2 205.5h.8v.8h-.8zM140.1 223.0h.8v.8h-.8zM132.5 203.7h.8v.8h-.8zM132.8 201.4h.8v.8h-.8zM124.2 211.8h.8v.8h-.8zM123.3 212.1h.8v.8h-.8zM133.8 199.3h.8v.8h-.8zM136.9 200.6h.8v.8h-.8zM139.3 222.9h.8v.8h-.8zM133.8 199.7h.8v.8h-.8zM133.6 210.1h.8v.8h-.8zM144.8 202.4h.8v.8h-.8zM142.4 229.9h.8v.8h-.8zM139.3 224.1h.8v.8h-.8zM125.8 229.4h.8v.8h-.8zM133.3 228.6h.8v.8h-.8zM143.9 203.3h.8v.8h-.8zM140.7 227.8h.8v.8h-.8zM122.6 209.2h.8v.8h-.8zM139.9 203.1h.8v.8h-.8zM143.4 206.8h.8v.8h-.8zM141.4 202.6h.8v.8h-.8zM133.6 227.4h.8v.8h-.8zM126.2 206.4h.8v.8h-.8zM133.7 208.2h.8v.8h-.8zM121.9 203.8h.8v.8h-.8zM125.0 228.0h.8v.8h-.8zM138.0 226.7h.8v.8h-.8zM125.2 223.1h.8v.8h-.8zM123.9 215.0h.8v.8h-.8zM136.9 209.5h.8v.8h-.8zM142.8 215.8h.8v.8h-.8zM135.5 226.2h.8v.8h-.8zM123.6 229.8h.8v.8h-.8zM136.7 210.6h.8v.8h-.8zM140.9 206.5h.8v.8h-.8z" fill="#000" fill-opacity="0.22"/>
</g>
<rect x="118.6" y="195.8" width="39.0" height="34.5" fill="none" stroke="#000" stroke-width="0.9"/>
<path d="M128.4 195.8L128.4 230.3" stroke="#000" stroke-width="0.9"/>
<path d="M118.6 221.3L157.6 221.3" stroke="#000" stroke-width="0.9"/>
<text x="116.0" y="236.9" font-size="5.4" fill="#111">10<tspan font-size="3.2" dy="-1.8">0</tspan></text>
<text x="153.0" y="236.9" font-size="5.4" fill="#111">10<tspan font-size="3.2" dy="-1.8">4</tspan></text>
<text x="0" y="0" font-size="4.4" fill="#111" transform="translate(117.0,199.8) rotate(-90)">10<tspan font-size="3" dy="-1.5">4</tspan></text>
<text x="0" y="0" font-size="4.4" fill="#111" transform="translate(117.0,231.10000000000002) rotate(-90)">10<tspan font-size="3" dy="-1.5">0</tspan></text>
<text x="154.2" y="205.0" font-size="5.8" font-weight="bold" text-anchor="end" fill="#000">20</text>
<text x="170.3" y="9.6" font-size="10.2" font-weight="bold" text-anchor="start" fill="#000">C</text>
<path d="M177.0 12.1L175.2 16.3L178.8 16.3Z" fill="#000"/>
<path d="M177.0 15L177.0 41.0" stroke="#000" stroke-width="0.8"/>
<text x="0" y="0" font-size="5.6" font-weight="bold" text-anchor="middle" fill="#000" transform="translate(176.9,56.2) rotate(-90)">Counts</text>
<path d="M177.0 67.3L177.0 114.6" stroke="#000" stroke-width="0.8"/>
<path d="M176.6 114.6L244.3 114.6" stroke="#000" stroke-width="0.8"/>
<path d="M265.3 114.6L324 114.6" stroke="#000" stroke-width="0.8"/>
<path d="M327.4 114.6L323.2 112.8L323.2 116.39999999999999Z" fill="#000"/>
<text x="255.2" y="117.3" font-size="5.6" font-weight="bold" text-anchor="middle" fill="#000">DX5</text>
<path d="M188.0 47.8L188.6 47.8L189.3 47.8L189.9 47.7L190.5 47.6L191.1 47.2L191.8 46.6L192.4 45.3L193.0 43.4L193.7 40.8L194.3 37.9L194.9 35.2L195.5 33.3L196.2 32.9L196.8 33.8L197.4 35.5L198.1 37.8L198.7 40.2L199.3 42.5L199.9 44.4L200.6 45.7L201.2 46.6L201.8 47.2L202.5 47.5L203.1 47.7L203.7 47.7L204.3 47.8L205.0 47.8L205.6 47.8L206.2 47.8L206.8 47.8L207.5 47.8L208.1 47.8L208.7 47.8L209.4 47.8L210.0 47.8L210.6 47.8L211.2 47.8L211.9 47.8L212.5 47.8L213.1 47.8L213.8 47.8L214.4 47.8L215.0 47.8L215.6 47.8L216.3 47.8L216.9 47.8L217.5 47.8L218.2 47.8L218.8 47.8L219.4 47.8L220.0 47.8L220.7 47.8L221.3 47.8L221.9 47.8L222.6 47.8L223.2 47.8L223.8 47.8L224.4 47.8L225.1 47.8L225.7 47.8L225.7 47.8L188.0 47.8Z" fill="#444" stroke="#000" stroke-width="0.5"/>
<path d="M188.0 47.8L188.6 47.8L189.3 47.7L189.9 47.5L190.5 46.9L191.1 45.4L191.8 42.6L192.4 38.5L193.0 33.7L193.7 29.8L194.3 28.6L194.9 29.3L195.5 31.0L196.2 33.4L196.8 36.1L197.4 38.9L198.1 41.4L198.7 43.5L199.3 45.0L199.9 46.1L200.6 46.8L201.2 47.3L201.8 47.5L202.5 47.7L203.1 47.7L203.7 47.8L204.3 47.8L205.0 47.8L205.6 47.8L206.2 47.8L206.8 47.8L207.5 47.8L208.1 47.8L208.7 47.8L209.4 47.8L210.0 47.8L210.6 47.8L211.2 47.8L211.9 47.8L212.5 47.8L213.1 47.8L213.8 47.8L214.4 47.8L215.0 47.8L215.6 47.8L216.3 47.8L216.9 47.8L217.5 47.8L218.2 47.8L218.8 47.8L219.4 47.8L220.0 47.8L220.7 47.8L221.3 47.8L221.9 47.8L222.6 47.8L223.2 47.8L223.8 47.8L224.4 47.8L225.1 47.8L225.7 47.8" fill="none" stroke="#888" stroke-width="0.75"/>
<rect x="188.0" y="13.4" width="37.69999999999999" height="34.9" fill="none" stroke="#000" stroke-width="0.9"/>
<path d="M188.0 48.0L225.7 48.0" stroke="#000" stroke-width="1.0"/>
<text x="186.4" y="56.099999999999994" font-size="5.4" fill="#111">10<tspan font-size="3.2" dy="-1.8">0</tspan></text>
<text x="219.29999999999998" y="56.099999999999994" font-size="5.4" fill="#111">10<tspan font-size="3.2" dy="-1.8">4</tspan></text>
<text x="0" y="0" font-size="4.6" fill="#111" text-anchor="end" transform="translate(184.8,11.8) rotate(-90)">200</text>
<text x="0" y="0" font-size="4.6" fill="#111" transform="translate(185.7,48.5) rotate(-90)">0</text>
<text x="217.79999999999998" y="21.9" font-size="5.8" font-weight="bold" text-anchor="end" fill="#000">9</text>
<text x="206.85" y="9.7" font-size="5.9" font-weight="bold" text-anchor="middle" fill="#000">None</text>
<path d="M236.3 47.8L236.9 47.8L237.5 47.8L238.2 47.8L238.8 47.7L239.4 47.6L240.0 47.3L240.7 46.7L241.3 45.7L241.9 44.2L242.5 42.3L243.2 40.2L243.8 38.4L244.4 37.3L245.0 37.2L245.7 37.2L246.3 37.3L246.9 37.8L247.5 38.5L248.1 39.5L248.8 40.6L249.4 41.7L250.0 42.7L250.6 43.7L251.3 44.5L251.9 45.2L252.5 45.7L253.1 46.2L253.8 46.6L254.4 46.8L255.0 47.0L255.6 47.2L256.2 47.3L256.9 47.4L257.5 47.4L258.1 47.5L258.7 47.5L259.4 47.6L260.0 47.6L260.6 47.6L261.2 47.6L261.9 47.6L262.5 47.6L263.1 47.7L263.7 47.7L264.4 47.7L265.0 47.7L265.6 47.7L266.2 47.7L266.8 47.7L267.5 47.7L268.1 47.7L268.7 47.7L269.3 47.7L270.0 47.7L270.6 47.8L271.2 47.8L271.8 47.8L272.5 47.8L273.1 47.8L273.7 47.8L273.7 47.8L236.3 47.8Z" fill="#444" stroke="#000" stroke-width="0.5"/>
<path d="M236.3 47.8L236.9 47.8L237.5 47.7L238.2 47.6L238.8 47.2L239.4 46.1L240.0 44.0L240.7 40.8L241.3 36.8L241.9 33.3L242.5 31.7L243.2 32.1L243.8 33.3L244.4 35.1L245.0 37.4L245.7 39.7L246.3 41.9L246.9 43.7L247.5 45.1L248.1 46.1L248.8 46.8L249.4 47.3L250.0 47.5L250.6 47.7L251.3 47.7L251.9 47.8L252.5 47.8L253.1 47.8L253.8 47.8L254.4 47.8L255.0 47.8L255.6 47.8L256.2 47.8L256.9 47.8L257.5 47.8L258.1 47.8L258.7 47.8L259.4 47.8L260.0 47.8L260.6 47.8L261.2 47.8L261.9 47.8L262.5 47.8L263.1 47.8L263.7 47.8L264.4 47.8L265.0 47.8L265.6 47.8L266.2 47.8L266.8 47.8L267.5 47.8L268.1 47.8L268.7 47.8L269.3 47.8L270.0 47.8L270.6 47.8L271.2 47.8L271.8 47.8L272.5 47.8L273.1 47.8L273.7 47.8" fill="none" stroke="#888" stroke-width="0.75"/>
<rect x="236.3" y="13.4" width="37.39999999999998" height="34.9" fill="none" stroke="#000" stroke-width="0.9"/>
<path d="M236.3 48.0L273.7 48.0" stroke="#000" stroke-width="1.0"/>
<text x="234.70000000000002" y="56.099999999999994" font-size="5.4" fill="#111">10<tspan font-size="3.2" dy="-1.8">0</tspan></text>
<text x="267.3" y="56.099999999999994" font-size="5.4" fill="#111">10<tspan font-size="3.2" dy="-1.8">4</tspan></text>
<text x="0" y="0" font-size="4.6" fill="#111" text-anchor="end" transform="translate(233.10000000000002,11.8) rotate(-90)">200</text>
<text x="0" y="0" font-size="4.6" fill="#111" transform="translate(234.0,48.5) rotate(-90)">0</text>
<text x="268.3" y="22.0" font-size="5.8" font-weight="bold" text-anchor="end" fill="#000">15</text>
<text x="255.0" y="9.7" font-size="5.9" font-weight="bold" text-anchor="middle" fill="#000">PTX3 (-)</text>
<path d="M286.7 47.8L287.3 47.8L288.0 47.8L288.6 47.8L289.2 47.8L289.8 47.8L290.5 47.7L291.1 47.6L291.7 47.4L292.4 46.8L293.0 45.9L293.6 44.4L294.2 42.3L294.9 40.0L295.5 37.8L296.1 36.4L296.8 36.0L297.4 36.4L298.0 37.3L298.6 38.7L299.3 40.3L299.9 41.9L300.5 43.4L301.2 44.7L301.8 45.7L302.4 46.4L303.0 46.9L303.7 47.2L304.3 47.4L304.9 47.5L305.5 47.6L306.2 47.6L306.8 47.7L307.4 47.7L308.1 47.7L308.7 47.7L309.3 47.7L309.9 47.7L310.6 47.7L311.2 47.7L311.8 47.7L312.5 47.7L313.1 47.7L313.7 47.8L314.3 47.8L315.0 47.8L315.6 47.8L316.2 47.8L316.9 47.8L317.5 47.8L318.1 47.8L318.7 47.8L319.4 47.8L320.0 47.8L320.6 47.8L321.3 47.8L321.9 47.8L322.5 47.8L323.1 47.8L323.8 47.8L324.4 47.8L324.4 47.8L286.7 47.8Z" fill="#444" stroke="#000" stroke-width="0.5"/>
<path d="M286.7 47.8L287.3 47.7L288.0 47.6L288.6 47.1L289.2 46.1L289.8 44.1L290.5 41.0L291.1 37.4L291.7 34.5L292.4 33.5L293.0 34.0L293.6 35.2L294.2 37.0L294.9 39.0L295.5 41.1L296.1 43.0L296.8 44.5L297.4 45.7L298.0 46.5L298.6 47.1L299.3 47.4L299.9 47.6L300.5 47.7L301.2 47.8L301.8 47.8L302.4 47.8L303.0 47.8L303.7 47.8L304.3 47.8L304.9 47.8L305.5 47.8L306.2 47.8L306.8 47.8L307.4 47.8L308.1 47.8L308.7 47.8L309.3 47.8L309.9 47.8L310.6 47.8L311.2 47.8L311.8 47.8L312.5 47.8L313.1 47.8L313.7 47.8L314.3 47.8L315.0 47.8L315.6 47.8L316.2 47.8L316.9 47.8L317.5 47.8L318.1 47.8L318.7 47.8L319.4 47.8L320.0 47.8L320.6 47.8L321.3 47.8L321.9 47.8L322.5 47.8L323.1 47.8L323.8 47.8L324.4 47.8" fill="none" stroke="#888" stroke-width="0.75"/>
<rect x="286.7" y="13.4" width="37.69999999999999" height="34.9" fill="none" stroke="#000" stroke-width="0.9"/>
<path d="M286.7 48.0L324.4 48.0" stroke="#000" stroke-width="1.0"/>
<text x="285.09999999999997" y="56.099999999999994" font-size="5.4" fill="#111">10<tspan font-size="3.2" dy="-1.8">0</tspan></text>
<text x="318.0" y="56.099999999999994" font-size="5.4" fill="#111">10<tspan font-size="3.2" dy="-1.8">4</tspan></text>
<text x="0" y="0" font-size="4.6" fill="#111" text-anchor="end" transform="translate(283.5,11.8) rotate(-90)">200</text>
<text x="0" y="0" font-size="4.6" fill="#111" transform="translate(284.4,48.5) rotate(-90)">0</text>
<text x="319.0" y="22.0" font-size="5.8" font-weight="bold" text-anchor="end" fill="#000">38</text>
<text x="305.54999999999995" y="9.7" font-size="5.9" font-weight="bold" text-anchor="middle" fill="#000">PTX3 (+)</text>
<path d="M188.0 97.6L188.6 97.3L189.3 96.6L189.9 95.4L190.5 93.5L191.1 90.8L191.8 87.7L192.4 84.6L193.0 82.4L193.7 81.7L194.3 82.4L194.9 84.1L195.5 86.5L196.2 89.2L196.8 91.7L197.4 93.8L198.1 95.3L198.7 96.4L199.3 97.1L199.9 97.4L200.6 97.6L201.2 97.7L201.8 97.8L202.5 97.8L203.1 97.8L203.7 97.8L204.3 97.8L205.0 97.8L205.6 97.8L206.2 97.8L206.8 97.8L207.5 97.8L208.1 97.8L208.7 97.8L209.4 97.8L210.0 97.8L210.6 97.8L211.2 97.8L211.9 97.8L212.5 97.8L213.1 97.8L213.8 97.8L214.4 97.8L215.0 97.8L215.6 97.8L216.3 97.8L216.9 97.8L217.5 97.8L218.2 97.8L218.8 97.8L219.4 97.8L220.0 97.8L220.7 97.8L221.3 97.8L221.9 97.8L222.6 97.8L223.2 97.8L223.8 97.8L224.4 97.8L225.1 97.8L225.7 97.8L225.7 97.8L188.0 97.8Z" fill="#444" stroke="#000" stroke-width="0.5"/>
<path d="M188.0 97.7L188.6 97.5L189.3 97.0L189.9 95.6L190.5 93.1L191.1 89.2L191.8 84.5L192.4 80.6L193.0 79.2L193.7 79.8L194.3 81.3L194.9 83.6L195.5 86.3L196.2 88.9L196.8 91.4L197.4 93.4L198.1 95.0L198.7 96.1L199.3 96.8L199.9 97.3L200.6 97.5L201.2 97.7L201.8 97.7L202.5 97.8L203.1 97.8L203.7 97.8L204.3 97.8L205.0 97.8L205.6 97.8L206.2 97.8L206.8 97.8L207.5 97.8L208.1 97.8L208.7 97.8L209.4 97.8L210.0 97.8L210.6 97.8L211.2 97.8L211.9 97.8L212.5 97.8L213.1 97.8L213.8 97.8L214.4 97.8L215.0 97.8L215.6 97.8L216.3 97.8L216.9 97.8L217.5 97.8L218.2 97.8L218.8 97.8L219.4 97.8L220.0 97.8L220.7 97.8L221.3 97.8L221.9 97.8L222.6 97.8L223.2 97.8L223.8 97.8L224.4 97.8L225.1 97.8L225.7 97.8" fill="none" stroke="#888" stroke-width="0.75"/>
<rect x="188.0" y="63.8" width="37.69999999999999" height="34.5" fill="none" stroke="#000" stroke-width="0.9"/>
<path d="M188.0 98.0L225.7 98.0" stroke="#000" stroke-width="1.0"/>
<text x="186.4" y="106.1" font-size="5.4" fill="#111">10<tspan font-size="3.2" dy="-1.8">0</tspan></text>
<text x="219.29999999999998" y="106.1" font-size="5.4" fill="#111">10<tspan font-size="3.2" dy="-1.8">4</tspan></text>
<text x="0" y="0" font-size="4.6" fill="#111" text-anchor="end" transform="translate(184.8,62.199999999999996) rotate(-90)">200</text>
<text x="0" y="0" font-size="4.6" fill="#111" transform="translate(185.7,98.5) rotate(-90)">0</text>
<text x="217.79999999999998" y="72.3" font-size="5.8" font-weight="bold" text-anchor="end" fill="#000">7</text>
<path d="M236.3 97.8L236.9 97.8L237.5 97.8L238.2 97.8L238.8 97.7L239.4 97.6L240.0 97.3L240.7 96.8L241.3 95.9L241.9 94.6L242.5 92.9L243.2 91.0L243.8 89.4L244.4 88.5L245.0 88.4L245.7 88.5L246.3 88.8L246.9 89.3L247.5 90.1L248.1 91.1L248.8 92.1L249.4 93.1L250.0 94.0L250.6 94.8L251.3 95.5L251.9 96.1L252.5 96.5L253.1 96.8L253.8 97.0L254.4 97.2L255.0 97.3L255.6 97.4L256.2 97.5L256.9 97.5L257.5 97.6L258.1 97.6L258.7 97.6L259.4 97.6L260.0 97.6L260.6 97.7L261.2 97.7L261.9 97.7L262.5 97.7L263.1 97.7L263.7 97.7L264.4 97.7L265.0 97.7L265.6 97.7L266.2 97.7L266.8 97.7L267.5 97.7L268.1 97.8L268.7 97.8L269.3 97.8L270.0 97.8L270.6 97.8L271.2 97.8L271.8 97.8L272.5 97.8L273.1 97.8L273.7 97.8L273.7 97.8L236.3 97.8Z" fill="#444" stroke="#000" stroke-width="0.5"/>
<path d="M236.3 97.8L236.9 97.8L237.5 97.8L238.2 97.8L238.8 97.7L239.4 97.4L240.0 96.7L240.7 95.2L241.3 92.6L241.9 89.0L242.5 85.2L243.2 82.7L243.8 82.4L244.4 83.2L245.0 84.8L245.7 86.8L246.3 89.0L246.9 91.2L247.5 93.1L248.1 94.7L248.8 95.8L249.4 96.6L250.0 97.1L250.6 97.4L251.3 97.6L251.9 97.7L252.5 97.8L253.1 97.8L253.8 97.8L254.4 97.8L255.0 97.8L255.6 97.8L256.2 97.8L256.9 97.8L257.5 97.8L258.1 97.8L258.7 97.8L259.4 97.8L260.0 97.8L260.6 97.8L261.2 97.8L261.9 97.8L262.5 97.8L263.1 97.8L263.7 97.8L264.4 97.8L265.0 97.8L265.6 97.8L266.2 97.8L266.8 97.8L267.5 97.8L268.1 97.8L268.7 97.8L269.3 97.8L270.0 97.8L270.6 97.8L271.2 97.8L271.8 97.8L272.5 97.8L273.1 97.8L273.7 97.8" fill="none" stroke="#888" stroke-width="0.75"/>
<rect x="236.3" y="63.8" width="37.39999999999998" height="34.5" fill="none" stroke="#000" stroke-width="0.9"/>
<path d="M236.3 98.0L273.7 98.0" stroke="#000" stroke-width="1.0"/>
<text x="234.70000000000002" y="106.1" font-size="5.4" fill="#111">10<tspan font-size="3.2" dy="-1.8">0</tspan></text>
<text x="267.3" y="106.1" font-size="5.4" fill="#111">10<tspan font-size="3.2" dy="-1.8">4</tspan></text>
<text x="0" y="0" font-size="4.6" fill="#111" text-anchor="end" transform="translate(233.10000000000002,62.199999999999996) rotate(-90)">200</text>
<text x="0" y="0" font-size="4.6" fill="#111" transform="translate(234.0,98.5) rotate(-90)">0</text>
<text x="268.3" y="72.39999999999999" font-size="5.8" font-weight="bold" text-anchor="end" fill="#000">10</text>
<path d="M286.7 97.8L287.3 97.8L288.0 97.8L288.6 97.8L289.2 97.8L289.8 97.8L290.5 97.8L291.1 97.7L291.7 97.5L292.4 97.2L293.0 96.5L293.6 95.4L294.2 93.7L294.9 91.5L295.5 89.2L296.1 87.2L296.8 86.1L297.4 86.1L298.0 86.7L298.6 87.8L299.3 89.2L299.9 90.9L300.5 92.5L301.2 93.9L301.8 95.1L302.4 96.0L303.0 96.6L303.7 97.0L304.3 97.3L304.9 97.5L305.5 97.6L306.2 97.6L306.8 97.7L307.4 97.7L308.1 97.7L308.7 97.7L309.3 97.7L309.9 97.7L310.6 97.7L311.2 97.7L311.8 97.7L312.5 97.7L313.1 97.7L313.7 97.8L314.3 97.8L315.0 97.8L315.6 97.8L316.2 97.8L316.9 97.8L317.5 97.8L318.1 97.8L318.7 97.8L319.4 97.8L320.0 97.8L320.6 97.8L321.3 97.8L321.9 97.8L322.5 97.8L323.1 97.8L323.8 97.8L324.4 97.8L324.4 97.8L286.7 97.8Z" fill="#444" stroke="#000" stroke-width="0.5"/>
<path d="M286.7 97.8L287.3 97.8L288.0 97.8L288.6 97.7L289.2 97.4L289.8 96.6L290.5 94.9L291.1 91.9L291.7 87.8L292.4 83.6L293.0 80.9L293.6 80.6L294.2 81.6L294.9 83.4L295.5 85.7L296.1 88.2L296.8 90.6L297.4 92.8L298.0 94.4L298.6 95.7L299.3 96.6L299.9 97.1L300.5 97.4L301.2 97.6L301.8 97.7L302.4 97.8L303.0 97.8L303.7 97.8L304.3 97.8L304.9 97.8L305.5 97.8L306.2 97.8L306.8 97.8L307.4 97.8L308.1 97.8L308.7 97.8L309.3 97.8L309.9 97.8L310.6 97.8L311.2 97.8L311.8 97.8L312.5 97.8L313.1 97.8L313.7 97.8L314.3 97.8L315.0 97.8L315.6 97.8L316.2 97.8L316.9 97.8L317.5 97.8L318.1 97.8L318.7 97.8L319.4 97.8L320.0 97.8L320.6 97.8L321.3 97.8L321.9 97.8L322.5 97.8L323.1 97.8L323.8 97.8L324.4 97.8" fill="none" stroke="#888" stroke-width="0.75"/>
<rect x="286.7" y="63.8" width="37.69999999999999" height="34.5" fill="none" stroke="#000" stroke-width="0.9"/>
<path d="M286.7 98.0L324.4 98.0" stroke="#000" stroke-width="1.0"/>
<text x="285.09999999999997" y="106.1" font-size="5.4" fill="#111">10<tspan font-size="3.2" dy="-1.8">0</tspan></text>
<text x="318.0" y="106.1" font-size="5.4" fill="#111">10<tspan font-size="3.2" dy="-1.8">4</tspan></text>
<text x="0" y="0" font-size="4.6" fill="#111" text-anchor="end" transform="translate(283.5,62.199999999999996) rotate(-90)">200</text>
<text x="0" y="0" font-size="4.6" fill="#111" transform="translate(284.4,98.5) rotate(-90)">0</text>
<text x="319.0" y="72.39999999999999" font-size="5.8" font-weight="bold" text-anchor="end" fill="#000">36</text>
<text x="255.0" y="60.7" font-size="5.6" font-weight="bold" text-anchor="middle" fill="#000">Spleen</text>
<text x="255.0" y="107.6" font-size="5.6" font-weight="bold" text-anchor="middle" fill="#000">Lung</text>
<text x="172.5" y="140.4" font-size="10.5" font-weight="bold" text-anchor="start" fill="#000">D</text>
<path d="M177.1 145.0L175.29999999999998 149.2L178.9 149.2Z" fill="#000"/>
<path d="M177.1 148L177.1 155.6" stroke="#000" stroke-width="0.8"/>
<text x="0" y="0" font-size="5.6" font-weight="bold" text-anchor="middle" fill="#000" transform="translate(179.1,163.6) rotate(-90)">DX5</text>
<path d="M177.1 170.0L177.1 184.7" stroke="#000" stroke-width="0.8"/>
<path d="M176.7 189.2L248.5 189.2" stroke="#000" stroke-width="0.8"/>
<path d="M272.0 189.2L332 189.2" stroke="#000" stroke-width="0.8"/>
<path d="M336.0 189.2L331.8 187.39999999999998L331.8 191.0Z" fill="#000"/>
<text x="259.8" y="191.4" font-size="5.6" font-weight="bold" text-anchor="middle" fill="#000">CD69</text>
<g clip-path="url(#d0)"><g filter="url(#spk)">
<ellipse cx="194.3" cy="159.5" rx="4.2" ry="11.5" fill="#000" fill-opacity="0.85"/>
<ellipse cx="203" cy="160.5" rx="6" ry="2.2" transform="rotate(-45 203 160.5)" fill="#000" fill-opacity="0.35"/>
<ellipse cx="196" cy="157" rx="6" ry="12" fill="#000" fill-opacity="0.2"/>
</g>
<path d="M217.7 159.9h.8v.8h-.8zM200.1 164.4h.8v.8h-.8zM202.4 150.2h.8v.8h-.8zM210.8 147.2h.8v.8h-.8zM213.0 152.1h.8v.8h-.8zM207.9 169.6h.8v.8h-.8zM206.4 161.9h.8v.8h-.8zM198.8 146.0h.8v.8h-.8zM190.9 149.6h.8v.8h-.8zM207.2 156.4h.8v.8h-.8zM204.4 167.5h.8v.8h-.8zM193.7 151.5h.8v.8h-.8zM208.3 146.5h.8v.8h-.8zM190.1 154.5h.8v.8h-.8zM193.0 154.6h.8v.8h-.8zM196.3 160.0h.8v.8h-.8zM206.5 150.9h.8v.8h-.8zM207.5 157.4h.8v.8h-.8zM193.8 168.5h.8v.8h-.8zM196.8 149.6h.8v.8h-.8zM192.7 161.3h.8v.8h-.8zM214.4 164.8h.8v.8h-.8zM201.3 152.3h.8v.8h-.8zM190.3 161.5h.8v.8h-.8zM205.7 154.4h.8v.8h-.8zM208.1 156.7h.8v.8h-.8zM216.2 163.6h.8v.8h-.8zM197.0 167.7h.8v.8h-.8zM191.2 158.8h.8v.8h-.8zM201.4 151.7h.8v.8h-.8zM191.6 164.7h.8v.8h-.8zM190.3 159.2h.8v.8h-.8zM216.3 149.4h.8v.8h-.8zM195.6 160.6h.8v.8h-.8zM204.2 161.4h.8v.8h-.8zM212.8 150.2h.8v.8h-.8zM198.7 153.2h.8v.8h-.8zM191.4 167.3h.8v.8h-.8zM211.9 163.2h.8v.8h-.8zM190.2 166.3h.8v.8h-.8zM210.9 157.2h.8v.8h-.8zM210.8 156.9h.8v.8h-.8zM196.3 148.5h.8v.8h-.8zM196.5 146.9h.8v.8h-.8zM199.4 164.0h.8v.8h-.8z" fill="#000" fill-opacity="0.22"/>
</g>
<rect x="190.2" y="144.8" width="38.60000000000002" height="34.69999999999999" fill="none" stroke="#000" stroke-width="0.9"/>
<path d="M199.5 144.8L199.5 179.5" stroke="#000" stroke-width="0.9"/>
<path d="M190.2 170.1L228.8 170.1" stroke="#000" stroke-width="0.9"/>
<text x="187.2" y="186.7" font-size="5.4" fill="#111">10<tspan font-size="3.2" dy="-1.8">0</tspan></text>
<text x="224.20000000000002" y="186.7" font-size="5.4" fill="#111">10<tspan font-size="3.2" dy="-1.8">4</tspan></text>
<text x="0" y="0" font-size="4.4" fill="#111" transform="translate(188.6,148.8) rotate(-90)">10<tspan font-size="3" dy="-1.5">4</tspan></text>
<text x="0" y="0" font-size="4.4" fill="#111" transform="translate(188.6,180.3) rotate(-90)">10<tspan font-size="3" dy="-1.5">0</tspan></text>
<text x="223.9" y="153.5" font-size="5.8" font-weight="bold" text-anchor="end" fill="#000">3</text>
<text x="209.5" y="142.4" font-size="5.9" font-weight="bold" text-anchor="middle" fill="#000">None</text>
<g clip-path="url(#d1)"><g filter="url(#spk)">
<ellipse cx="249" cy="158.5" rx="8" ry="11.5" fill="#000" fill-opacity="0.45"/>
<ellipse cx="247.5" cy="159" rx="5" ry="8.5" fill="#000" fill-opacity="0.3"/>
</g>
<path d="M258.4 166.3h.8v.8h-.8zM258.8 152.4h.8v.8h-.8zM254.8 156.5h.8v.8h-.8zM260.7 158.6h.8v.8h-.8zM247.6 161.4h.8v.8h-.8zM265.1 151.2h.8v.8h-.8zM263.0 146.4h.8v.8h-.8zM247.5 151.7h.8v.8h-.8zM259.6 168.7h.8v.8h-.8zM259.7 153.8h.8v.8h-.8zM263.0 153.9h.8v.8h-.8zM247.0 167.8h.8v.8h-.8zM256.8 162.6h.8v.8h-.8zM257.6 169.5h.8v.8h-.8zM252.7 166.2h.8v.8h-.8zM258.4 166.6h.8v.8h-.8zM251.9 163.4h.8v.8h-.8zM255.3 153.4h.8v.8h-.8zM246.3 160.9h.8v.8h-.8zM242.9 167.9h.8v.8h-.8zM244.6 146.6h.8v.8h-.8zM243.7 168.3h.8v.8h-.8zM249.6 149.4h.8v.8h-.8zM241.7 147.0h.8v.8h-.8zM258.3 161.2h.8v.8h-.8zM258.4 163.7h.8v.8h-.8zM242.6 160.2h.8v.8h-.8zM250.1 165.6h.8v.8h-.8zM261.5 167.4h.8v.8h-.8zM242.6 166.8h.8v.8h-.8zM263.9 168.7h.8v.8h-.8zM243.7 150.9h.8v.8h-.8zM243.8 146.8h.8v.8h-.8zM262.2 165.5h.8v.8h-.8zM256.9 165.8h.8v.8h-.8zM256.8 152.9h.8v.8h-.8zM243.5 148.3h.8v.8h-.8zM259.9 150.9h.8v.8h-.8zM249.0 156.2h.8v.8h-.8zM241.5 152.2h.8v.8h-.8zM248.1 163.2h.8v.8h-.8zM250.2 153.7h.8v.8h-.8zM265.1 158.1h.8v.8h-.8zM262.3 160.8h.8v.8h-.8zM241.8 155.9h.8v.8h-.8zM251.9 164.6h.8v.8h-.8zM249.7 162.9h.8v.8h-.8zM254.4 151.2h.8v.8h-.8zM262.6 148.2h.8v.8h-.8zM261.5 150.1h.8v.8h-.8zM241.0 150.8h.8v.8h-.8zM260.1 169.5h.8v.8h-.8zM241.1 157.8h.8v.8h-.8zM253.3 165.1h.8v.8h-.8zM245.6 157.9h.8v.8h-.8zM249.7 166.0h.8v.8h-.8zM247.5 168.7h.8v.8h-.8zM248.1 151.2h.8v.8h-.8zM258.5 158.0h.8v.8h-.8zM243.7 161.3h.8v.8h-.8z" fill="#000" fill-opacity="0.22"/>
</g>
<rect x="240.2" y="144.8" width="39.10000000000002" height="34.69999999999999" fill="none" stroke="#000" stroke-width="0.9"/>
<path d="M250.2 144.8L250.2 179.5" stroke="#000" stroke-width="0.9"/>
<path d="M240.2 170.1L279.3 170.1" stroke="#000" stroke-width="0.9"/>
<text x="237.2" y="186.7" font-size="5.4" fill="#111">10<tspan font-size="3.2" dy="-1.8">0</tspan></text>
<text x="274.7" y="186.7" font-size="5.4" fill="#111">10<tspan font-size="3.2" dy="-1.8">4</tspan></text>
<text x="0" y="0" font-size="4.4" fill="#111" transform="translate(238.6,148.8) rotate(-90)">10<tspan font-size="3" dy="-1.5">4</tspan></text>
<text x="0" y="0" font-size="4.4" fill="#111" transform="translate(238.6,180.3) rotate(-90)">10<tspan font-size="3" dy="-1.5">0</tspan></text>
<text x="275.7" y="153.6" font-size="5.8" font-weight="bold" text-anchor="end" fill="#000">35</text>
<text x="259.75" y="142.4" font-size="5.9" font-weight="bold" text-anchor="middle" fill="#000">PTX3 (-)</text>
<g clip-path="url(#d2)"><g filter="url(#spk)">
<ellipse cx="304.5" cy="158" rx="10" ry="12" fill="#000" fill-opacity="0.55"/>
<ellipse cx="305" cy="159" rx="6.5" ry="9.5" fill="#000" fill-opacity="0.35"/>
</g>
<path d="M295.3 164.9h.8v.8h-.8zM313.2 164.9h.8v.8h-.8zM311.2 154.5h.8v.8h-.8zM304.6 155.5h.8v.8h-.8zM318.8 148.1h.8v.8h-.8zM318.8 146.6h.8v.8h-.8zM299.0 152.3h.8v.8h-.8zM319.1 158.0h.8v.8h-.8zM304.0 167.2h.8v.8h-.8zM299.8 157.1h.8v.8h-.8zM308.4 164.1h.8v.8h-.8zM314.8 161.5h.8v.8h-.8zM303.1 153.8h.8v.8h-.8zM297.5 166.2h.8v.8h-.8zM312.2 163.8h.8v.8h-.8zM297.9 156.5h.8v.8h-.8zM315.4 159.9h.8v.8h-.8zM296.7 157.1h.8v.8h-.8zM318.7 151.7h.8v.8h-.8zM298.6 153.2h.8v.8h-.8zM313.4 166.2h.8v.8h-.8zM297.5 149.7h.8v.8h-.8zM300.2 153.8h.8v.8h-.8zM308.1 149.9h.8v.8h-.8zM302.5 150.5h.8v.8h-.8zM321.3 163.5h.8v.8h-.8zM296.0 169.1h.8v.8h-.8zM295.9 155.2h.8v.8h-.8zM321.5 165.1h.8v.8h-.8zM314.3 156.4h.8v.8h-.8zM298.7 161.3h.8v.8h-.8zM296.1 151.0h.8v.8h-.8zM304.3 146.8h.8v.8h-.8zM304.6 165.0h.8v.8h-.8zM313.1 158.0h.8v.8h-.8zM311.3 157.1h.8v.8h-.8zM297.1 160.5h.8v.8h-.8zM304.7 163.8h.8v.8h-.8zM319.3 156.3h.8v.8h-.8zM309.6 164.0h.8v.8h-.8zM305.2 151.5h.8v.8h-.8zM313.9 167.1h.8v.8h-.8zM315.4 162.8h.8v.8h-.8zM317.7 162.3h.8v.8h-.8zM311.6 156.9h.8v.8h-.8zM302.1 161.1h.8v.8h-.8zM295.8 156.1h.8v.8h-.8zM315.7 163.1h.8v.8h-.8zM311.3 152.0h.8v.8h-.8zM305.3 156.9h.8v.8h-.8zM311.0 155.8h.8v.8h-.8zM312.6 168.3h.8v.8h-.8zM298.3 161.7h.8v.8h-.8zM315.6 155.3h.8v.8h-.8zM307.2 169.4h.8v.8h-.8zM294.1 159.0h.8v.8h-.8zM297.7 164.8h.8v.8h-.8zM320.3 158.5h.8v.8h-.8zM295.9 159.8h.8v.8h-.8zM308.7 163.2h.8v.8h-.8zM307.9 161.3h.8v.8h-.8zM317.0 158.5h.8v.8h-.8zM304.9 168.8h.8v.8h-.8zM299.1 162.4h.8v.8h-.8zM304.4 164.3h.8v.8h-.8zM296.5 169.6h.8v.8h-.8zM303.3 147.4h.8v.8h-.8zM301.0 155.6h.8v.8h-.8zM293.4 156.0h.8v.8h-.8zM305.2 162.8h.8v.8h-.8z" fill="#000" fill-opacity="0.22"/>
</g>
<rect x="292.2" y="144.8" width="39.5" height="34.69999999999999" fill="none" stroke="#000" stroke-width="0.9"/>
<path d="M302.0 144.8L302.0 179.5" stroke="#000" stroke-width="0.9"/>
<path d="M292.2 170.1L331.7 170.1" stroke="#000" stroke-width="0.9"/>
<text x="289.2" y="186.7" font-size="5.4" fill="#111">10<tspan font-size="3.2" dy="-1.8">0</tspan></text>
<text x="327.09999999999997" y="186.7" font-size="5.4" fill="#111">10<tspan font-size="3.2" dy="-1.8">4</tspan></text>
<text x="0" y="0" font-size="4.4" fill="#111" transform="translate(290.59999999999997,148.8) rotate(-90)">10<tspan font-size="3" dy="-1.5">4</tspan></text>
<text x="0" y="0" font-size="4.4" fill="#111" transform="translate(290.59999999999997,180.3) rotate(-90)">10<tspan font-size="3" dy="-1.5">0</tspan></text>
<text x="328.09999999999997" y="153.6" font-size="5.8" font-weight="bold" text-anchor="end" fill="#000">76</text>
<text x="311.95" y="142.4" font-size="5.9" font-weight="bold" text-anchor="middle" fill="#000">PTX3 (+)</text>
<text x="347.3" y="11.3" font-size="10.5" font-weight="bold" text-anchor="start" fill="#000">E</text>
<text x="0" y="0" font-size="5.8" font-weight="bold" text-anchor="start" fill="#000" stroke="#000" stroke-width="0.15" transform="translate(352.6,39.5) rotate(-90) scale(1 0.8)">Specific</text>
<text x="0" y="0" font-size="5.6" font-weight="bold" text-anchor="start" fill="#000" stroke="#000" stroke-width="0.15" transform="translate(357.9,39.5) rotate(-90) scale(1 0.82)">lysis (%)</text>
<path d="M369.8 9.3L369.8 47.1" stroke="#888" stroke-width="0.5"/>
<path d="M369.8 47.1L442.5 47.1" stroke="#888" stroke-width="0.5"/>
<text x="367.6" y="11.5" font-size="3.4" text-anchor="end" fill="#222">100</text>
<path d="M368.6 10.3L369.8 10.3" stroke="#888" stroke-width="0.4"/>
<text x="367.6" y="29.900000000000002" font-size="3.4" text-anchor="end" fill="#222">50</text>
<path d="M368.6 28.700000000000003L369.8 28.700000000000003" stroke="#888" stroke-width="0.4"/>
<text x="367.6" y="48.300000000000004" font-size="3.4" text-anchor="end" fill="#222">0</text>
<path d="M368.6 47.1L369.8 47.1" stroke="#888" stroke-width="0.4"/>
<rect x="374.6" y="28.589600000000004" width="5.2" height="18.510399999999997" fill="#000" stroke="#000" stroke-width="0.6"/>
<path d="M377.20000000000005 26.989600000000003L377.20000000000005 28.589600000000004" stroke="#000" stroke-width="0.4"/>
<path d="M376.1 26.989600000000003L378.3 26.989600000000003" stroke="#000" stroke-width="0.4"/>
<rect x="379.8" y="24.909600000000005" width="5.2" height="22.190399999999997" fill="#bdbdbd" stroke="#666" stroke-width="0.6"/>
<path d="M382.40000000000003 23.709600000000005L382.40000000000003 24.909600000000005" stroke="#000" stroke-width="0.4"/>
<path d="M381.3 23.709600000000005L383.5 23.709600000000005" stroke="#000" stroke-width="0.4"/>
<rect x="385.0" y="11.514400000000002" width="5.2" height="35.5856" fill="#fff" stroke="#999" stroke-width="0.6"/>
<path d="M387.6 10.314400000000003L387.6 11.514400000000002" stroke="#000" stroke-width="0.4"/>
<path d="M386.5 10.314400000000003L388.7 10.314400000000003" stroke="#000" stroke-width="0.4"/>
<rect x="398.7" y="37.7896" width="5.2" height="9.310400000000001" fill="#000" stroke="#000" stroke-width="0.6"/>
<path d="M401.3 36.9896L401.3 37.7896" stroke="#000" stroke-width="0.4"/>
<path d="M400.2 36.9896L402.4 36.9896" stroke="#000" stroke-width="0.4"/>
<rect x="403.9" y="34.22" width="5.2" height="12.880000000000003" fill="#bdbdbd" stroke="#666" stroke-width="0.6"/>
<path d="M406.5 33.42L406.5 34.22" stroke="#000" stroke-width="0.4"/>
<path d="M405.4 33.42L407.59999999999997 33.42" stroke="#000" stroke-width="0.4"/>
<rect x="409.09999999999997" y="24.284000000000002" width="5.2" height="22.816" fill="#fff" stroke="#999" stroke-width="0.6"/>
<path d="M411.7 23.084000000000003L411.7 24.284000000000002" stroke="#000" stroke-width="0.4"/>
<path d="M410.59999999999997 23.084000000000003L412.79999999999995 23.084000000000003" stroke="#000" stroke-width="0.4"/>
<rect x="423.0" y="40.4024" width="5.2" height="6.697600000000001" fill="#000" stroke="#000" stroke-width="0.6"/>
<path d="M425.6 39.8024L425.6 40.4024" stroke="#000" stroke-width="0.4"/>
<path d="M424.5 39.8024L426.7 39.8024" stroke="#000" stroke-width="0.4"/>
<rect x="428.2" y="44.0824" width="5.2" height="3.0176000000000016" fill="#bdbdbd" stroke="#666" stroke-width="0.6"/>
<path d="M430.8 43.4824L430.8 44.0824" stroke="#000" stroke-width="0.4"/>
<path d="M429.7 43.4824L431.9 43.4824" stroke="#000" stroke-width="0.4"/>
<rect x="433.4" y="37.7896" width="5.2" height="9.310400000000001" fill="#fff" stroke="#999" stroke-width="0.6"/>
<path d="M436.0 36.5896L436.0 37.7896" stroke="#000" stroke-width="0.4"/>
<path d="M434.9 36.5896L437.09999999999997 36.5896" stroke="#000" stroke-width="0.4"/>
<text x="387.6" y="10.7" font-size="6.0" font-weight="bold" text-anchor="middle" fill="#000">**</text>
<text x="412.1" y="24.1" font-size="6.0" font-weight="bold" text-anchor="middle" fill="#000">**</text>
<text x="436.4" y="37.9" font-size="6.0" font-weight="bold" text-anchor="middle" fill="#000">**</text>
<text x="0" y="0" font-size="5.7" font-weight="bold" text-anchor="middle" fill="#000" stroke="#000" stroke-width="0.15" transform="translate(453.4,25.8) rotate(-90) scale(1 0.8)">IFN-&#947;&#8314; NK&#8314;</text>
<text x="0" y="0" font-size="5.7" font-weight="bold" text-anchor="middle" fill="#000" stroke="#000" stroke-width="0.15" transform="translate(458.4,28.0) rotate(-90) scale(1 0.8)">cells (x10&#179;)</text>
<path d="M469.5 11.0L469.5 45.2" stroke="#888" stroke-width="0.5"/>
<path d="M469.5 45.2L518.3 45.2" stroke="#888" stroke-width="0.5"/>
<text x="467.4" y="13.2" font-size="3.6" text-anchor="end" fill="#222">20</text>
<path d="M468.4 12.0L469.5 12.0" stroke="#888" stroke-width="0.4"/>
<text x="467.4" y="29.8" font-size="3.6" text-anchor="end" fill="#222">10</text>
<path d="M468.4 28.6L469.5 28.6" stroke="#888" stroke-width="0.4"/>
<text x="467.4" y="46.400000000000006" font-size="3.6" text-anchor="end" fill="#222">0</text>
<path d="M468.4 45.2L469.5 45.2" stroke="#888" stroke-width="0.4"/>
<rect x="477.8" y="41.0168" width="10.6" height="4.183199999999999" fill="#000" stroke="#000" stroke-width="0.6"/>
<rect x="488.1" y="33.58" width="10.6" height="11.620000000000005" fill="#999" stroke="#777" stroke-width="0.6"/>
<rect x="498.5" y="16.15" width="11.1" height="29.050000000000004" fill="#fff" stroke="#aaa" stroke-width="0.6"/>
<text x="493.3" y="33.3" font-size="6.0" font-weight="bold" text-anchor="middle" fill="#000">*</text>
<text x="504.1" y="15.5" font-size="6.0" font-weight="bold" text-anchor="middle" fill="#000">**</text>
<text x="348.3" y="65.0" font-size="10.5" font-weight="bold" text-anchor="start" fill="#000">F</text>
<text x="0" y="0" font-size="5.8" font-weight="bold" text-anchor="start" fill="#000" stroke="#000" stroke-width="0.15" transform="translate(352.6,93.9) rotate(-90) scale(1 0.8)">Specific</text>
<text x="0" y="0" font-size="5.6" font-weight="bold" text-anchor="start" fill="#000" stroke="#000" stroke-width="0.15" transform="translate(357.9,93.9) rotate(-90) scale(1 0.82)">lysis (%)</text>
<path d="M369.8 63.099999999999994L369.8 101.5" stroke="#888" stroke-width="0.5"/>
<path d="M369.8 101.5L442.5 101.5" stroke="#888" stroke-width="0.5"/>
<text x="367.6" y="65.3" font-size="3.4" text-anchor="end" fill="#222">100</text>
<path d="M368.6 64.1L369.8 64.1" stroke="#888" stroke-width="0.4"/>
<text x="367.6" y="84.0" font-size="3.4" text-anchor="end" fill="#222">50</text>
<path d="M368.6 82.8L369.8 82.8" stroke="#888" stroke-width="0.4"/>
<text x="367.6" y="102.7" font-size="3.4" text-anchor="end" fill="#222">0</text>
<path d="M368.6 101.5L369.8 101.5" stroke="#888" stroke-width="0.4"/>
<rect x="374.6" y="99.7048" width="5.2" height="1.7951999999999941" fill="#000" stroke="#000" stroke-width="0.6"/>
<rect x="379.8" y="91.02799999999999" width="5.2" height="10.472000000000008" fill="#bdbdbd" stroke="#666" stroke-width="0.6"/>
<path d="M382.40000000000003 90.02799999999999L382.40000000000003 91.02799999999999" stroke="#000" stroke-width="0.4"/>
<path d="M381.3 90.02799999999999L383.5 90.02799999999999" stroke="#000" stroke-width="0.4"/>
<rect x="385.0" y="83.58539999999999" width="5.2" height="17.914600000000007" fill="#fff" stroke="#999" stroke-width="0.6"/>
<path d="M387.6 82.38539999999999L387.6 83.58539999999999" stroke="#000" stroke-width="0.4"/>
<path d="M386.5 82.38539999999999L388.7 82.38539999999999" stroke="#000" stroke-width="0.4"/>
<rect x="398.7" y="101.0138" width="5.2" height="0.48619999999999663" fill="#000" stroke="#000" stroke-width="0.6"/>
<rect x="403.9" y="97.7974" width="5.2" height="3.702600000000004" fill="#bdbdbd" stroke="#666" stroke-width="0.6"/>
<path d="M406.5 96.5974L406.5 97.7974" stroke="#000" stroke-width="0.4"/>
<path d="M405.4 96.5974L407.59999999999997 96.5974" stroke="#000" stroke-width="0.4"/>
<rect x="409.09999999999997" y="88.597" width="5.2" height="12.903000000000006" fill="#fff" stroke="#999" stroke-width="0.6"/>
<path d="M411.7 87.39699999999999L411.7 88.597" stroke="#000" stroke-width="0.4"/>
<path d="M410.59999999999997 87.39699999999999L412.79999999999995 87.39699999999999" stroke="#000" stroke-width="0.4"/>
<rect x="423.0" y="101.2756" width="5.2" height="0.22440000000000282" fill="#000" stroke="#000" stroke-width="0.6"/>
<rect x="428.2" y="101.2756" width="5.2" height="0.22440000000000282" fill="#bdbdbd" stroke="#666" stroke-width="0.6"/>
<rect x="433.4" y="96.077" width="5.2" height="5.423000000000002" fill="#fff" stroke="#999" stroke-width="0.6"/>
<path d="M436.0 95.077L436.0 96.077" stroke="#000" stroke-width="0.4"/>
<path d="M434.9 95.077L437.09999999999997 95.077" stroke="#000" stroke-width="0.4"/>
<text x="382.4" y="91.3" font-size="6.0" font-weight="bold" text-anchor="middle" fill="#000">*</text>
<text x="387.9" y="84.1" font-size="6.0" font-weight="bold" text-anchor="middle" fill="#000">**</text>
<text x="406.5" y="98.7" font-size="6.0" font-weight="bold" text-anchor="middle" fill="#000">*</text>
<text x="412.0" y="89.5" font-size="6.0" font-weight="bold" text-anchor="middle" fill="#000">**</text>
<text x="436.2" y="96.5" font-size="6.0" font-weight="bold" text-anchor="middle" fill="#000">**</text>
<text x="0" y="0" font-size="5.7" font-weight="bold" text-anchor="middle" fill="#000" stroke="#000" stroke-width="0.15" transform="translate(453.4,82.0) rotate(-90) scale(1 0.8)">IFN-&#947; CD8&#8314;</text>
<text x="0" y="0" font-size="5.7" font-weight="bold" text-anchor="middle" fill="#000" stroke="#000" stroke-width="0.15" transform="translate(458.4,80.3) rotate(-90) scale(1 0.8)">cells (x10&#179;)</text>
<path d="M469.5 65.0L469.5 99.7" stroke="#888" stroke-width="0.5"/>
<path d="M469.5 99.7L518.3 99.7" stroke="#888" stroke-width="0.5"/>
<text x="467.4" y="67.2" font-size="3.6" text-anchor="end" fill="#222">40</text>
<path d="M468.4 66.0L469.5 66.0" stroke="#888" stroke-width="0.4"/>
<text x="467.4" y="84.05" font-size="3.6" text-anchor="end" fill="#222">20</text>
<path d="M468.4 82.85L469.5 82.85" stroke="#888" stroke-width="0.4"/>
<text x="467.4" y="100.9" font-size="3.6" text-anchor="end" fill="#222">0</text>
<path d="M468.4 99.7L469.5 99.7" stroke="#888" stroke-width="0.4"/>
<rect x="477.8" y="98.68900000000001" width="10.6" height="1.0109999999999957" fill="#000" stroke="#000" stroke-width="0.6"/>
<rect x="488.1" y="92.286" width="10.6" height="7.4140000000000015" fill="#999" stroke="#777" stroke-width="0.6"/>
<rect x="498.5" y="73.751" width="11.1" height="25.948999999999998" fill="#fff" stroke="#aaa" stroke-width="0.6"/>
<path d="M504.05 72.15100000000001L504.05 73.751" stroke="#000" stroke-width="0.4"/>
<path d="M502.85 72.15100000000001L505.25 72.15100000000001" stroke="#000" stroke-width="0.4"/>
<text x="493.3" y="91.89999999999999" font-size="6.0" font-weight="bold" text-anchor="middle" fill="#000">*</text>
<text x="504.1" y="71.1" font-size="6.0" font-weight="bold" text-anchor="middle" fill="#000">**</text>
<text x="347.3" y="119.2" font-size="10.5" font-weight="bold" text-anchor="start" fill="#000">G</text>
<text x="0" y="0" font-size="5.8" font-weight="bold" text-anchor="start" fill="#000" stroke="#000" stroke-width="0.15" transform="translate(352.6,146.70000000000002) rotate(-90) scale(1 0.8)">Specific</text>
<text x="0" y="0" font-size="5.6" font-weight="bold" text-anchor="start" fill="#000" stroke="#000" stroke-width="0.15" transform="translate(357.9,146.70000000000002) rotate(-90) scale(1 0.82)">lysis (%)</text>
<path d="M369.8 116.5L369.8 154.3" stroke="#888" stroke-width="0.5"/>
<path d="M369.8 154.3L442.5 154.3" stroke="#888" stroke-width="0.5"/>
<text x="367.6" y="118.7" font-size="3.4" text-anchor="end" fill="#222">100</text>
<path d="M368.6 117.5L369.8 117.5" stroke="#888" stroke-width="0.4"/>
<text x="367.6" y="137.1" font-size="3.4" text-anchor="end" fill="#222">50</text>
<path d="M368.6 135.9L369.8 135.9" stroke="#888" stroke-width="0.4"/>
<text x="367.6" y="155.5" font-size="3.4" text-anchor="end" fill="#222">0</text>
<path d="M368.6 154.3L369.8 154.3" stroke="#888" stroke-width="0.4"/>
<rect x="374.6" y="154.07920000000001" width="5.2" height="0.220799999999997" fill="#000" stroke="#000" stroke-width="0.6"/>
<rect x="379.8" y="154.07920000000001" width="5.2" height="0.220799999999997" fill="#bdbdbd" stroke="#666" stroke-width="0.6"/>
<rect x="385.0" y="154.07920000000001" width="5.2" height="0.220799999999997" fill="#fff" stroke="#999" stroke-width="0.6"/>
<path d="M387.6 153.2792L387.6 154.07920000000001" stroke="#000" stroke-width="0.4"/>
<path d="M386.5 153.2792L388.7 153.2792" stroke="#000" stroke-width="0.4"/>
<rect x="398.7" y="154.07920000000001" width="5.2" height="0.220799999999997" fill="#000" stroke="#000" stroke-width="0.6"/>
<rect x="403.9" y="154.07920000000001" width="5.2" height="0.220799999999997" fill="#bdbdbd" stroke="#666" stroke-width="0.6"/>
<rect x="409.09999999999997" y="154.07920000000001" width="5.2" height="0.220799999999997" fill="#fff" stroke="#999" stroke-width="0.6"/>
<path d="M411.7 153.2792L411.7 154.07920000000001" stroke="#000" stroke-width="0.4"/>
<path d="M410.59999999999997 153.2792L412.79999999999995 153.2792" stroke="#000" stroke-width="0.4"/>
<rect x="423.0" y="152.7176" width="5.2" height="1.582400000000007" fill="#000" stroke="#000" stroke-width="0.6"/>
<rect x="428.2" y="154.07920000000001" width="5.2" height="0.220799999999997" fill="#bdbdbd" stroke="#666" stroke-width="0.6"/>
<rect x="433.4" y="154.07920000000001" width="5.2" height="0.220799999999997" fill="#fff" stroke="#999" stroke-width="0.6"/>
<path d="M436.0 153.2792L436.0 154.07920000000001" stroke="#000" stroke-width="0.4"/>
<path d="M434.9 153.2792L437.09999999999997 153.2792" stroke="#000" stroke-width="0.4"/>
<text x="0" y="0" font-size="5.7" font-weight="bold" text-anchor="middle" fill="#000" stroke="#000" stroke-width="0.15" transform="translate(453.4,135.6) rotate(-90) scale(1 0.8)">IFN-&#947; CD4&#8314;</text>
<text x="0" y="0" font-size="5.7" font-weight="bold" text-anchor="middle" fill="#000" stroke="#000" stroke-width="0.15" transform="translate(458.4,135.6) rotate(-90) scale(1 0.8)">cells (x10&#179;)</text>
<path d="M469.5 117.9L469.5 152.9" stroke="#888" stroke-width="0.5"/>
<path d="M469.5 152.9L518.3 152.9" stroke="#888" stroke-width="0.5"/>
<text x="467.4" y="120.10000000000001" font-size="3.6" text-anchor="end" fill="#222">20</text>
<path d="M468.4 118.9L469.5 118.9" stroke="#888" stroke-width="0.4"/>
<text x="467.4" y="137.1" font-size="3.6" text-anchor="end" fill="#222">10</text>
<path d="M468.4 135.9L469.5 135.9" stroke="#888" stroke-width="0.4"/>
<text x="467.4" y="154.1" font-size="3.6" text-anchor="end" fill="#222">0</text>
<path d="M468.4 152.9L469.5 152.9" stroke="#888" stroke-width="0.4"/>
<rect x="477.8" y="151.88" width="10.6" height="1.0200000000000102" fill="#000" stroke="#000" stroke-width="0.6"/>
<rect x="488.1" y="146.44" width="10.6" height="6.460000000000008" fill="#999" stroke="#777" stroke-width="0.6"/>
<rect x="498.5" y="131.48000000000002" width="11.1" height="21.419999999999987" fill="#fff" stroke="#aaa" stroke-width="0.6"/>
<path d="M504.05 129.88000000000002L504.05 131.48000000000002" stroke="#000" stroke-width="0.4"/>
<path d="M502.85 129.88000000000002L505.25 129.88000000000002" stroke="#000" stroke-width="0.4"/>
<text x="493.3" y="145.8" font-size="6.0" font-weight="bold" text-anchor="middle" fill="#000">*</text>
<text x="504.1" y="130.70000000000002" font-size="6.0" font-weight="bold" text-anchor="middle" fill="#000">**</text>
<text x="381.9" y="163.9" font-size="5.3" font-weight="bold" text-anchor="middle" fill="#000">50:1</text>
<text x="406.0" y="163.9" font-size="5.3" font-weight="bold" text-anchor="middle" fill="#000">25:1</text>
<text x="430.4" y="163.9" font-size="5.3" font-weight="bold" text-anchor="middle" fill="#000">12.5:1</text>
<text x="410.0" y="170.3" font-size="5.5" font-weight="bold" text-anchor="middle" fill="#000">Effector - Target Ratios</text>
<rect x="460.4" y="162.0" width="6.2" height="6.0" fill="#000" stroke="#555" stroke-width="0.6"/>
<text x="468.5" y="167.8" font-size="5.6" font-weight="bold" text-anchor="start" fill="#000">none</text>
<rect x="489.2" y="162.0" width="6.2" height="6.0" fill="#a8a8a8" stroke="#666" stroke-width="0.6"/>
<text x="497.3" y="167.8" font-size="5.4" font-weight="bold" text-anchor="start" fill="#000">PTX3 (-)</text>
<rect x="460.8" y="173.3" width="6.2" height="6.0" fill="#fff" stroke="#777" stroke-width="0.6"/>
<text x="468.8" y="179.2" font-size="5.6" font-weight="bold" text-anchor="start" fill="#000">PTX3 (+)</text>
</svg>
</body></html>
